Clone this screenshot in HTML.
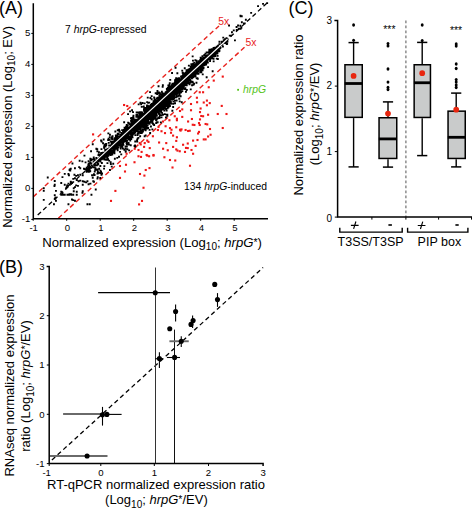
<!DOCTYPE html>
<html><head><meta charset="utf-8"><title>Figure</title>
<style>html,body{margin:0;padding:0;background:#fff;} svg{display:block;} text{font-family:"Liberation Sans",sans-serif;}</style>
</head><body>
<svg width="472" height="509" viewBox="0 0 472 509" font-family="Liberation Sans, sans-serif"><line x1="37.7" y1="215.0" x2="267.7" y2="2.4000000000000057" stroke="#000" stroke-width="1.3" stroke-dasharray="4.5 3"/>
<polyline points="33.2,196.9 118.75,117.5 219.0,25.9" fill="none" stroke="#e8231e" stroke-width="1.4" stroke-dasharray="4.8 3.2"/>
<line x1="58.3" y1="218.2" x2="245.6" y2="46.2" stroke="#e8231e" stroke-width="1.4" stroke-dasharray="4.8 3.2"/>
<path d="M96.9 173.2h1.9M85.7 167.7h1.9M95.2 162.5h1.9M91.6 175.3h1.9M94.8 165.4h1.9M87.8 163.7h1.9M85.9 170.5h1.9M83.5 155.6h1.9M85.7 170.8h1.9M96.2 169.5h1.9M87.9 171.9h1.9M88.0 171.5h1.9M93.6 167.3h1.9M99.5 161.6h1.9M86.1 168.8h1.9M86.8 166.6h1.9M93.3 161.4h1.9M100.7 159.3h1.9M92.7 162.3h1.9M92.6 167.2h1.9M100.2 158.1h1.9M86.6 171.4h1.9M97.5 158.8h1.9M90.1 167.9h1.9M89.3 171.2h1.9M96.5 178.6h1.9M90.3 167.5h1.9M97.3 159.8h1.9M88.7 169.7h1.9M89.4 159.1h1.9M96.9 164.5h1.9M97.8 172.7h1.9M92.7 163.1h1.9M86.3 170.7h1.9M85.4 170.0h1.9M87.9 168.2h1.9M96.6 162.9h1.9M96.5 170.0h1.9M87.4 164.7h1.9M93.5 162.8h1.9M101.1 173.5h1.9M89.0 166.6h1.9M103.4 166.1h1.9M93.2 159.3h1.9M88.7 167.8h1.9M90.5 160.3h1.9M94.2 165.1h1.9M98.6 159.4h1.9M95.2 160.3h1.9M87.4 165.4h1.9M99.8 157.6h1.9M86.3 169.1h1.9M94.5 168.3h1.9M92.8 157.4h1.9M87.6 169.4h1.9M93.2 165.1h1.9M84.1 169.3h1.9M97.3 164.0h1.9M96.8 160.8h1.9M95.9 165.4h1.9M97.8 158.7h1.9M88.4 165.6h1.9M103.1 168.6h1.9M89.4 158.7h1.9M93.9 163.3h1.9M90.6 163.7h1.9M109.0 170.0h1.9M99.3 158.1h1.9M91.4 163.9h1.9M99.4 166.0h1.9M84.7 169.2h1.9M93.1 159.2h1.9M91.7 159.4h1.9M97.5 155.1h1.9M100.9 163.0h1.9M89.5 167.4h1.9M96.9 171.5h1.9M94.0 160.9h1.9M85.3 170.9h1.9M89.3 162.4h1.9M78.7 160.7h1.9M88.6 171.3h1.9M91.1 175.2h1.9M97.5 161.3h1.9M87.6 170.0h1.9M88.5 167.6h1.9M100.5 174.7h1.9M98.1 159.0h1.9M87.6 171.4h1.9M89.8 163.1h1.9M89.8 160.4h1.9M90.1 151.3h1.9M95.4 158.0h1.9M98.7 159.8h1.9M93.8 171.6h1.9M90.9 165.1h1.9M94.3 169.8h1.9M99.4 159.9h1.9M98.7 157.2h1.9M93.6 175.0h1.9M96.8 177.3h1.9M81.4 161.4h1.9M99.3 178.0h1.9M100.1 171.7h1.9M89.8 159.3h1.9M88.9 167.5h1.9M85.7 171.8h1.9M99.6 173.0h1.9M91.4 166.8h1.9M95.4 165.1h1.9M118.7 145.0h1.9M111.9 146.8h1.9M103.6 144.6h1.9M111.1 148.3h1.9M109.9 145.5h1.9M100.2 155.7h1.9M116.0 144.1h1.9M113.8 145.8h1.9M116.6 145.5h1.9M113.9 145.4h1.9M107.8 152.3h1.9M109.7 153.8h1.9M101.2 155.1h1.9M111.2 147.9h1.9M99.9 155.2h1.9M100.5 155.6h1.9M102.6 153.2h1.9M100.7 152.9h1.9M105.9 152.1h1.9M103.5 158.9h1.9M100.2 157.4h1.9M96.3 149.1h1.9M106.2 159.8h1.9M107.3 152.7h1.9M100.8 157.2h1.9M112.2 141.4h1.9M110.7 148.1h1.9M102.0 154.4h1.9M106.4 155.3h1.9M105.6 151.6h1.9M113.9 158.8h1.9M102.6 155.9h1.9M112.3 142.3h1.9M109.0 134.8h1.9M116.3 157.9h1.9M104.6 146.5h1.9M103.7 158.0h1.9M103.0 156.9h1.9M105.2 151.4h1.9M105.4 154.0h1.9M115.1 145.5h1.9M106.3 158.0h1.9M100.4 156.8h1.9M119.2 145.5h1.9M109.1 149.2h1.9M101.3 153.9h1.9M100.1 140.5h1.9M99.4 155.8h1.9M100.7 141.5h1.9M117.9 143.4h1.9M116.8 146.0h1.9M107.8 142.9h1.9M105.0 153.7h1.9M104.2 149.7h1.9M102.3 154.2h1.9M110.7 143.2h1.9M113.5 153.2h1.9M115.8 147.7h1.9M108.2 154.5h1.9M106.4 156.3h1.9M108.3 139.7h1.9M116.8 142.2h1.9M112.1 141.9h1.9M114.8 145.9h1.9M116.2 146.8h1.9M119.1 151.9h1.9M104.6 154.4h1.9M110.9 151.3h1.9M109.7 155.1h1.9M103.5 159.6h1.9M101.1 157.3h1.9M105.1 153.2h1.9M105.8 154.5h1.9M111.1 146.0h1.9M117.2 143.5h1.9M109.0 151.7h1.9M120.1 146.8h1.9M107.4 133.4h1.9M118.5 144.7h1.9M108.4 153.7h1.9M104.6 154.6h1.9M105.1 154.9h1.9M102.9 153.8h1.9M102.1 152.8h1.9M108.2 145.5h1.9M114.9 143.1h1.9M117.6 147.4h1.9M107.2 149.0h1.9M102.7 139.5h1.9M112.5 144.0h1.9M100.0 154.6h1.9M111.3 147.2h1.9M108.8 137.1h1.9M114.7 146.6h1.9M113.8 146.7h1.9M108.3 150.1h1.9M105.1 156.4h1.9M116.7 148.2h1.9M106.6 153.1h1.9M109.8 141.4h1.9M113.6 139.7h1.9M109.4 153.6h1.9M105.3 149.7h1.9M117.4 144.0h1.9M114.0 147.7h1.9M104.5 156.1h1.9M109.7 162.3h1.9M106.5 158.5h1.9M110.4 138.8h1.9M113.6 144.8h1.9M100.3 152.9h1.9M107.6 138.6h1.9M117.8 143.3h1.9M111.7 147.7h1.9M108.6 154.4h1.9M105.3 145.1h1.9M102.3 155.2h1.9M97.7 154.6h1.9M121.0 146.5h1.9M113.8 149.8h1.9M109.5 149.7h1.9M124.7 151.1h1.9M109.9 153.0h1.9M119.8 148.5h1.9M113.1 143.8h1.9M103.9 154.3h1.9M103.4 152.6h1.9M105.4 153.1h1.9M106.6 155.8h1.9M105.3 144.0h1.9M106.1 154.8h1.9M110.7 154.2h1.9M104.1 156.9h1.9M115.1 142.9h1.9M107.1 152.8h1.9M108.5 150.9h1.9M109.8 148.2h1.9M116.4 144.4h1.9M107.5 151.1h1.9M115.1 142.7h1.9M109.2 150.1h1.9M108.6 148.7h1.9M108.3 148.7h1.9M110.8 166.6h1.9M110.3 153.1h1.9M103.8 155.0h1.9M106.5 163.1h1.9M113.9 145.3h1.9M91.8 144.3h1.9M108.8 150.7h1.9M116.7 150.2h1.9M104.7 144.3h1.9M106.8 153.4h1.9M111.5 151.8h1.9M118.1 156.8h1.9M112.9 144.9h1.9M103.6 157.2h1.9M110.0 149.1h1.9M103.5 152.8h1.9M100.5 149.1h1.9M107.2 140.0h1.9M109.8 150.5h1.9M111.8 150.7h1.9M111.9 144.6h1.9M124.8 151.9h1.9M107.9 150.7h1.9M113.5 150.7h1.9M110.8 151.6h1.9M102.1 143.3h1.9M113.4 148.2h1.9M107.0 149.7h1.9M108.6 148.7h1.9M107.9 149.7h1.9M118.9 145.5h1.9M120.3 154.4h1.9M112.6 141.7h1.9M117.9 144.6h1.9M105.3 154.0h1.9M113.5 152.4h1.9M123.4 149.7h1.9M112.4 142.7h1.9M108.2 160.6h1.9M100.1 153.5h1.9M103.2 146.5h1.9M105.3 159.8h1.9M104.8 154.2h1.9M109.9 164.1h1.9M110.4 146.0h1.9M115.4 147.2h1.9M115.0 143.3h1.9M112.3 163.8h1.9M115.0 148.9h1.9M109.4 145.4h1.9M95.4 148.6h1.9M114.6 143.4h1.9M111.0 137.4h1.9M103.2 153.4h1.9M119.2 145.5h1.9M103.1 147.8h1.9M111.5 152.8h1.9M120.0 145.0h1.9M114.7 145.0h1.9M105.1 156.9h1.9M106.1 149.5h1.9M107.9 148.5h1.9M108.3 154.4h1.9M103.8 154.6h1.9M105.4 152.3h1.9M111.1 145.1h1.9M101.4 157.9h1.9M112.7 151.8h1.9M109.7 152.6h1.9M102.2 158.7h1.9M104.5 151.1h1.9M109.9 147.1h1.9M110.0 150.6h1.9M100.8 156.0h1.9M116.4 141.8h1.9M110.4 142.4h1.9M118.9 144.6h1.9M98.0 152.1h1.9M105.7 154.2h1.9M97.9 154.1h1.9M115.7 147.6h1.9M107.4 155.7h1.9M95.6 149.1h1.9M110.1 153.4h1.9M114.3 142.2h1.9M110.9 141.9h1.9M103.9 152.8h1.9M107.1 159.2h1.9M114.0 141.7h1.9M109.9 148.7h1.9M110.4 145.1h1.9M102.9 157.1h1.9M100.2 155.6h1.9M110.3 145.4h1.9M111.3 154.5h1.9M102.8 157.6h1.9M122.0 148.5h1.9M112.2 148.8h1.9M115.6 146.8h1.9M96.4 151.3h1.9M115.6 145.1h1.9M99.8 155.0h1.9M114.1 143.5h1.9M109.0 151.4h1.9M106.3 152.6h1.9M118.0 156.7h1.9M111.5 139.1h1.9M125.5 141.5h1.9M121.9 142.4h1.9M125.9 133.8h1.9M121.7 138.9h1.9M120.1 141.4h1.9M118.5 138.3h1.9M118.7 142.0h1.9M120.4 138.8h1.9M121.6 136.5h1.9M123.9 138.8h1.9M128.0 128.6h1.9M121.6 137.2h1.9M122.6 131.6h1.9M122.3 141.3h1.9M122.9 136.6h1.9M113.6 138.3h1.9M122.2 139.0h1.9M116.5 141.0h1.9M128.8 130.1h1.9M124.8 132.1h1.9M120.9 139.6h1.9M127.1 136.5h1.9M127.9 123.1h1.9M115.9 137.7h1.9M133.1 131.4h1.9M124.8 135.7h1.9M127.4 136.3h1.9M133.1 131.0h1.9M122.8 135.2h1.9M127.5 135.9h1.9M136.6 138.8h1.9M136.6 129.6h1.9M120.6 134.6h1.9M132.1 130.1h1.9M130.8 132.8h1.9M131.2 135.3h1.9M123.5 135.4h1.9M123.0 136.7h1.9M118.6 141.7h1.9M121.3 141.9h1.9M118.4 141.1h1.9M134.4 135.1h1.9M122.5 139.1h1.9M121.0 140.5h1.9M117.3 139.6h1.9M131.5 129.3h1.9M130.3 127.2h1.9M126.7 130.2h1.9M123.3 139.0h1.9M120.9 138.1h1.9M125.3 140.6h1.9M124.8 134.9h1.9M119.0 138.9h1.9M125.0 135.6h1.9M121.1 137.6h1.9M134.3 128.1h1.9M138.3 131.5h1.9M125.8 133.1h1.9M121.8 138.8h1.9M132.5 126.3h1.9M119.9 135.0h1.9M120.4 134.1h1.9M115.4 140.5h1.9M123.0 135.7h1.9M125.9 135.5h1.9M123.1 132.0h1.9M120.2 138.7h1.9M125.2 133.9h1.9M116.5 141.3h1.9M120.2 136.7h1.9M119.1 141.1h1.9M127.5 139.2h1.9M117.2 140.8h1.9M111.6 136.3h1.9M123.1 138.2h1.9M120.3 137.8h1.9M124.3 130.5h1.9M134.3 141.5h1.9M130.5 131.1h1.9M127.7 131.5h1.9M131.9 133.6h1.9M133.6 130.0h1.9M124.9 137.2h1.9M120.4 135.0h1.9M143.7 136.2h1.9M119.0 139.2h1.9M126.0 127.9h1.9M127.1 131.4h1.9M126.4 149.3h1.9M130.8 128.8h1.9M134.3 130.3h1.9M128.1 132.8h1.9M131.7 132.8h1.9M128.8 127.7h1.9M120.7 141.1h1.9M126.6 134.6h1.9M122.1 131.1h1.9M129.1 127.2h1.9M136.6 135.1h1.9M131.1 129.3h1.9M131.6 137.4h1.9M131.0 127.2h1.9M130.6 133.4h1.9M125.5 128.4h1.9M116.7 134.6h1.9M117.7 141.6h1.9M122.0 142.4h1.9M134.3 146.7h1.9M117.3 139.0h1.9M128.9 127.1h1.9M125.8 132.8h1.9M136.1 140.2h1.9M126.8 131.6h1.9M129.2 132.2h1.9M126.2 135.3h1.9M116.5 141.4h1.9M128.3 127.6h1.9M126.3 127.4h1.9M128.0 136.6h1.9M129.6 137.0h1.9M130.0 133.5h1.9M117.3 140.2h1.9M131.2 132.3h1.9M116.8 133.9h1.9M116.6 139.3h1.9M117.0 133.7h1.9M127.9 129.4h1.9M119.1 137.5h1.9M125.5 126.9h1.9M133.5 126.9h1.9M127.3 136.1h1.9M118.8 131.7h1.9M128.7 137.9h1.9M132.0 134.6h1.9M129.6 129.8h1.9M125.6 130.7h1.9M128.6 132.7h1.9M117.8 140.3h1.9M119.0 139.2h1.9M119.5 136.4h1.9M126.4 127.6h1.9M122.9 138.0h1.9M123.1 130.0h1.9M121.2 145.5h1.9M121.5 144.3h1.9M125.5 141.5h1.9M131.2 134.2h1.9M126.3 129.1h1.9M130.5 133.5h1.9M121.9 137.5h1.9M124.1 132.5h1.9M124.2 134.2h1.9M125.6 135.5h1.9M122.2 143.1h1.9M131.7 127.8h1.9M122.1 140.5h1.9M133.6 127.0h1.9M133.0 127.7h1.9M120.0 144.2h1.9M128.4 138.3h1.9M123.2 122.2h1.9M138.4 131.8h1.9M127.4 137.6h1.9M122.8 138.9h1.9M120.4 138.5h1.9M133.8 128.2h1.9M118.5 136.8h1.9M127.8 133.9h1.9M121.3 141.5h1.9M129.9 137.7h1.9M134.4 128.5h1.9M120.8 141.3h1.9M134.3 132.5h1.9M124.7 133.3h1.9M132.3 128.6h1.9M128.1 130.4h1.9M119.2 136.8h1.9M133.9 129.8h1.9M128.1 137.1h1.9M121.4 145.3h1.9M124.5 148.8h1.9M130.3 139.0h1.9M122.9 133.4h1.9M120.6 135.9h1.9M119.5 139.9h1.9M123.2 137.1h1.9M123.8 138.4h1.9M131.0 128.8h1.9M119.7 144.4h1.9M128.4 129.2h1.9M133.1 130.8h1.9M125.9 146.5h1.9M131.3 126.5h1.9M128.4 130.4h1.9M132.5 128.3h1.9M121.2 136.8h1.9M122.2 135.3h1.9M118.5 131.2h1.9M134.3 127.0h1.9M125.7 131.8h1.9M121.0 134.5h1.9M122.3 133.6h1.9M124.6 140.5h1.9M116.8 140.2h1.9M115.0 136.9h1.9M134.0 131.8h1.9M122.1 137.8h1.9M134.4 129.0h1.9M121.6 138.4h1.9M121.6 138.0h1.9M123.0 131.7h1.9M120.4 139.2h1.9M122.8 135.7h1.9M138.6 132.3h1.9M129.6 126.2h1.9M130.0 128.8h1.9M129.8 134.2h1.9M135.8 131.0h1.9M135.6 130.0h1.9M126.9 134.1h1.9M128.7 130.5h1.9M118.9 142.2h1.9M125.1 126.7h1.9M124.0 134.5h1.9M128.7 129.5h1.9M130.1 134.1h1.9M127.6 142.9h1.9M115.8 139.3h1.9M127.2 122.7h1.9M119.9 140.7h1.9M125.7 135.3h1.9M120.8 134.8h1.9M120.6 136.1h1.9M128.4 129.6h1.9M131.5 125.1h1.9M114.4 131.5h1.9M123.6 127.7h1.9M125.5 140.5h1.9M126.0 133.0h1.9M120.5 133.0h1.9M120.2 139.7h1.9M119.7 139.4h1.9M119.1 137.4h1.9M132.1 127.8h1.9M125.1 134.0h1.9M120.3 138.2h1.9M132.9 128.6h1.9M133.1 126.0h1.9M122.5 133.1h1.9M120.8 141.1h1.9M116.7 135.7h1.9M116.2 138.4h1.9M121.5 135.5h1.9M119.6 141.5h1.9M127.9 144.6h1.9M124.0 140.4h1.9M130.4 136.7h1.9M130.1 126.5h1.9M129.1 129.9h1.9M124.8 136.4h1.9M129.3 140.5h1.9M121.9 130.3h1.9M124.8 137.5h1.9M123.5 137.5h1.9M128.2 150.4h1.9M117.7 134.0h1.9M136.0 129.5h1.9M120.1 140.9h1.9M125.9 134.5h1.9M123.9 128.8h1.9M136.8 133.5h1.9M120.1 138.2h1.9M125.6 141.5h1.9M124.3 141.0h1.9M134.1 145.4h1.9M127.0 137.4h1.9M133.6 127.7h1.9M139.2 136.2h1.9M132.1 128.9h1.9M119.8 143.9h1.9M117.9 141.7h1.9M128.4 130.5h1.9M130.4 126.6h1.9M126.2 135.8h1.9M136.3 141.6h1.9M115.5 140.6h1.9M124.9 137.1h1.9M135.6 130.4h1.9M129.6 128.0h1.9M131.8 129.1h1.9M135.1 128.5h1.9M122.1 138.9h1.9M117.6 139.1h1.9M119.5 139.5h1.9M124.9 133.0h1.9M130.0 132.9h1.9M135.8 130.2h1.9M126.0 127.9h1.9M127.5 131.6h1.9M133.2 133.2h1.9M125.4 135.5h1.9M126.5 133.7h1.9M116.4 140.2h1.9M130.6 130.3h1.9M127.3 144.3h1.9M136.1 131.1h1.9M127.9 132.0h1.9M121.2 136.4h1.9M120.9 141.6h1.9M119.3 136.3h1.9M128.2 132.5h1.9M126.1 128.7h1.9M120.9 142.1h1.9M115.5 138.4h1.9M127.4 135.3h1.9M127.8 133.8h1.9M123.2 135.6h1.9M126.8 144.1h1.9M124.3 130.1h1.9M121.5 145.8h1.9M121.3 136.6h1.9M124.9 135.0h1.9M135.3 129.1h1.9M128.0 132.1h1.9M131.8 128.2h1.9M125.6 135.2h1.9M120.1 137.6h1.9M121.2 138.2h1.9M131.2 125.3h1.9M127.6 129.9h1.9M122.1 137.1h1.9M120.6 144.6h1.9M125.7 134.5h1.9M130.3 133.3h1.9M122.8 134.3h1.9M120.4 137.1h1.9M129.3 132.6h1.9M137.8 132.5h1.9M122.1 139.6h1.9M117.4 141.2h1.9M124.4 138.3h1.9M123.8 135.2h1.9M129.4 132.2h1.9M122.9 141.3h1.9M133.2 132.2h1.9M137.4 137.9h1.9M121.2 130.1h1.9M120.7 139.0h1.9M140.0 133.1h1.9M126.3 140.9h1.9M130.8 129.3h1.9M119.8 137.4h1.9M120.1 138.0h1.9M130.8 131.2h1.9M119.7 135.3h1.9M132.3 126.6h1.9M123.8 132.9h1.9M119.7 138.6h1.9M122.0 139.7h1.9M125.7 137.0h1.9M126.4 130.1h1.9M129.6 124.2h1.9M114.9 135.5h1.9M125.2 137.4h1.9M122.8 140.7h1.9M132.7 126.3h1.9M121.1 141.3h1.9M121.7 144.7h1.9M117.0 140.1h1.9M125.0 137.1h1.9M137.9 133.5h1.9M131.6 128.1h1.9M131.8 132.9h1.9M134.6 127.3h1.9M133.4 128.2h1.9M124.0 138.2h1.9M123.0 141.7h1.9M132.6 127.4h1.9M128.8 129.7h1.9M118.7 142.5h1.9M126.0 129.7h1.9M122.7 135.5h1.9M121.8 134.8h1.9M121.6 135.9h1.9M117.0 136.7h1.9M118.3 143.1h1.9M119.6 135.7h1.9M122.6 136.3h1.9M136.1 130.0h1.9M118.3 139.3h1.9M135.9 129.5h1.9M125.6 143.4h1.9M121.8 135.4h1.9M126.7 125.5h1.9M129.6 128.1h1.9M118.1 129.6h1.9M118.6 141.9h1.9M123.8 133.6h1.9M116.8 130.2h1.9M131.3 126.7h1.9M121.8 140.4h1.9M133.6 146.0h1.9M133.2 129.1h1.9M118.0 141.9h1.9M123.8 135.5h1.9M125.8 124.9h1.9M127.9 128.3h1.9M118.4 141.9h1.9M116.6 140.5h1.9M114.9 138.0h1.9M137.4 132.3h1.9M122.4 139.0h1.9M126.0 127.2h1.9M132.2 128.2h1.9M122.2 136.3h1.9M129.8 145.3h1.9M136.1 130.0h1.9M131.1 135.9h1.9M120.5 137.1h1.9M128.0 129.9h1.9M123.0 137.7h1.9M121.9 137.9h1.9M111.4 136.6h1.9M129.1 129.7h1.9M128.6 124.2h1.9M128.4 132.8h1.9M133.1 127.6h1.9M115.4 139.7h1.9M122.5 139.8h1.9M125.6 135.1h1.9M136.5 130.3h1.9M131.1 125.5h1.9M120.7 133.4h1.9M121.2 138.1h1.9M125.8 136.7h1.9M125.3 134.3h1.9M133.7 128.6h1.9M122.2 141.1h1.9M130.8 129.8h1.9M129.8 130.9h1.9M131.5 129.8h1.9M129.2 129.3h1.9M129.7 134.9h1.9M120.7 135.2h1.9M120.6 135.4h1.9M122.8 136.1h1.9M133.5 132.9h1.9M124.6 146.5h1.9M126.0 144.2h1.9M127.6 128.4h1.9M119.1 136.2h1.9M122.4 144.9h1.9M118.9 142.7h1.9M127.2 134.2h1.9M124.9 139.1h1.9M132.2 125.7h1.9M129.9 126.5h1.9M134.4 127.5h1.9M127.7 143.7h1.9M119.7 141.8h1.9M122.1 143.6h1.9M123.1 132.1h1.9M130.4 132.3h1.9M129.2 139.4h1.9M126.4 143.4h1.9M126.6 138.0h1.9M127.8 132.7h1.9M129.5 132.6h1.9M127.1 128.1h1.9M130.9 128.6h1.9M143.3 114.7h1.9M135.0 123.9h1.9M150.4 115.8h1.9M138.5 121.8h1.9M141.6 116.1h1.9M139.4 120.2h1.9M144.1 113.1h1.9M135.7 122.1h1.9M138.1 122.8h1.9M137.7 122.5h1.9M135.0 122.9h1.9M151.8 115.8h1.9M141.6 115.8h1.9M140.4 122.5h1.9M140.3 120.2h1.9M155.1 115.4h1.9M140.4 116.8h1.9M140.2 125.3h1.9M148.6 115.1h1.9M146.7 118.1h1.9M141.6 103.0h1.9M139.9 129.0h1.9M145.0 122.2h1.9M156.7 122.3h1.9M149.3 114.8h1.9M142.8 106.5h1.9M136.7 127.9h1.9M145.9 128.6h1.9M137.9 126.6h1.9M136.7 123.3h1.9M148.3 109.7h1.9M141.8 115.8h1.9M150.7 113.3h1.9M135.4 116.4h1.9M148.7 113.4h1.9M144.2 122.2h1.9M139.8 124.0h1.9M149.4 116.8h1.9M156.6 118.3h1.9M135.8 125.1h1.9M145.9 119.3h1.9M139.7 112.8h1.9M137.0 122.8h1.9M135.5 116.7h1.9M135.5 123.7h1.9M139.4 125.4h1.9M137.9 122.4h1.9M143.7 117.1h1.9M144.4 116.1h1.9M135.6 121.9h1.9M133.1 125.5h1.9M137.7 120.0h1.9M144.3 115.2h1.9M138.1 124.8h1.9M137.4 120.1h1.9M137.0 123.2h1.9M155.9 122.2h1.9M145.1 120.0h1.9M134.0 124.7h1.9M133.8 123.3h1.9M141.5 121.4h1.9M142.1 117.1h1.9M143.3 115.5h1.9M133.4 123.3h1.9M135.4 122.9h1.9M143.5 113.9h1.9M145.2 124.3h1.9M138.1 121.7h1.9M132.5 115.7h1.9M149.0 111.1h1.9M141.8 124.3h1.9M140.6 115.3h1.9M137.5 118.8h1.9M139.9 119.2h1.9M150.2 114.9h1.9M148.4 109.1h1.9M140.7 121.6h1.9M135.1 121.6h1.9M146.9 116.0h1.9M138.2 124.2h1.9M134.0 126.5h1.9M148.2 111.8h1.9M141.6 120.5h1.9M150.1 116.2h1.9M141.8 121.3h1.9M143.3 107.9h1.9M140.4 118.3h1.9M137.4 124.7h1.9M132.6 124.9h1.9M137.1 112.4h1.9M145.7 117.6h1.9M150.6 113.9h1.9M136.5 126.2h1.9M141.9 114.7h1.9M140.5 121.2h1.9M145.5 121.7h1.9M139.7 127.4h1.9M138.3 121.9h1.9M141.1 117.1h1.9M144.8 108.0h1.9M138.3 127.3h1.9M140.2 117.2h1.9M150.1 116.6h1.9M147.2 108.9h1.9M133.1 119.7h1.9M138.0 126.4h1.9M154.5 116.4h1.9M149.6 110.8h1.9M143.3 120.3h1.9M140.0 130.6h1.9M150.0 112.8h1.9M137.4 117.8h1.9M152.2 115.5h1.9M141.9 114.8h1.9M150.1 116.0h1.9M137.9 125.3h1.9M146.7 114.1h1.9M134.2 120.0h1.9M141.1 120.8h1.9M149.9 115.2h1.9M147.0 113.0h1.9M138.6 125.3h1.9M135.8 121.6h1.9M140.9 120.6h1.9M140.3 116.5h1.9M142.2 122.3h1.9M136.1 124.8h1.9M135.2 120.1h1.9M147.0 116.2h1.9M152.2 115.7h1.9M136.1 127.3h1.9M138.6 113.5h1.9M146.0 114.3h1.9M137.0 128.3h1.9M149.2 114.7h1.9M139.9 128.5h1.9M143.7 117.0h1.9M144.5 119.4h1.9M145.8 118.2h1.9M138.5 121.3h1.9M140.6 119.8h1.9M147.1 120.7h1.9M140.3 119.3h1.9M147.9 119.2h1.9M142.3 120.5h1.9M140.8 119.3h1.9M132.2 124.3h1.9M145.8 118.4h1.9M141.9 118.8h1.9M140.4 125.3h1.9M147.3 115.3h1.9M146.2 113.8h1.9M141.7 119.6h1.9M130.6 118.0h1.9M140.6 118.1h1.9M134.3 123.7h1.9M134.3 123.0h1.9M141.3 120.1h1.9M130.5 120.6h1.9M131.1 110.3h1.9M143.0 119.2h1.9M134.6 126.0h1.9M142.8 115.1h1.9M136.1 126.0h1.9M147.9 116.8h1.9M148.0 115.5h1.9M145.3 121.3h1.9M133.5 124.5h1.9M147.4 123.4h1.9M138.8 119.4h1.9M149.9 111.9h1.9M134.9 123.3h1.9M151.7 116.4h1.9M158.0 118.0h1.9M147.9 116.9h1.9M148.8 115.1h1.9M134.9 121.5h1.9M152.5 113.4h1.9M139.0 116.1h1.9M150.6 112.4h1.9M153.5 116.3h1.9M139.4 126.6h1.9M143.4 111.0h1.9M148.5 111.2h1.9M132.4 123.1h1.9M142.0 123.2h1.9M148.8 116.9h1.9M137.7 125.2h1.9M150.7 114.3h1.9M140.0 123.7h1.9M152.6 118.7h1.9M138.4 126.3h1.9M140.4 117.1h1.9M149.0 112.1h1.9M135.1 121.3h1.9M139.1 123.2h1.9M146.1 122.2h1.9M141.7 123.9h1.9M140.0 131.1h1.9M133.9 120.9h1.9M134.3 121.9h1.9M148.9 111.5h1.9M146.7 117.3h1.9M148.1 111.9h1.9M138.4 125.5h1.9M148.5 115.8h1.9M134.4 123.5h1.9M148.6 123.8h1.9M146.4 118.4h1.9M137.8 119.0h1.9M152.6 116.9h1.9M147.4 121.9h1.9M144.1 118.1h1.9M143.9 108.5h1.9M134.9 124.2h1.9M152.8 113.3h1.9M141.3 113.9h1.9M139.5 119.6h1.9M148.7 115.5h1.9M132.3 116.9h1.9M149.4 110.2h1.9M146.4 120.2h1.9M139.5 120.6h1.9M148.4 116.3h1.9M141.4 119.8h1.9M136.9 123.9h1.9M143.8 112.7h1.9M133.2 124.4h1.9M145.0 111.4h1.9M144.0 128.0h1.9M143.3 115.5h1.9M151.6 112.4h1.9M142.4 116.3h1.9M147.7 118.8h1.9M140.5 123.0h1.9M134.4 127.0h1.9M134.5 126.1h1.9M130.0 118.4h1.9M143.8 116.6h1.9M151.4 129.4h1.9M143.4 119.5h1.9M145.7 109.8h1.9M135.8 124.3h1.9M137.1 122.5h1.9M144.6 116.2h1.9M133.4 125.4h1.9M135.7 128.2h1.9M140.8 122.0h1.9M134.6 123.9h1.9M144.7 125.5h1.9M138.7 124.1h1.9M142.6 116.6h1.9M143.4 117.1h1.9M144.7 130.3h1.9M146.0 118.4h1.9M141.0 118.4h1.9M136.0 124.3h1.9M148.0 110.6h1.9M139.8 124.5h1.9M138.5 126.2h1.9M133.9 123.6h1.9M145.7 117.7h1.9M149.3 113.8h1.9M145.6 113.2h1.9M140.6 120.4h1.9M139.8 123.8h1.9M136.4 128.5h1.9M144.6 116.5h1.9M144.3 118.8h1.9M139.3 120.7h1.9M142.4 114.4h1.9M143.1 121.3h1.9M150.4 112.8h1.9M144.3 113.5h1.9M134.9 119.8h1.9M152.3 115.6h1.9M132.3 123.8h1.9M139.7 115.5h1.9M138.0 117.8h1.9M137.3 122.4h1.9M140.4 130.8h1.9M147.0 114.6h1.9M141.0 132.7h1.9M141.5 116.5h1.9M153.6 115.7h1.9M136.1 124.2h1.9M135.7 122.1h1.9M140.7 114.1h1.9M146.1 122.2h1.9M144.2 116.3h1.9M147.2 113.7h1.9M143.0 129.6h1.9M137.6 120.4h1.9M140.3 123.2h1.9M134.3 125.5h1.9M151.4 115.3h1.9M147.8 115.2h1.9M148.6 118.1h1.9M134.1 126.5h1.9M148.3 113.7h1.9M145.9 114.6h1.9M140.4 118.2h1.9M151.4 119.8h1.9M144.3 122.2h1.9M136.3 121.8h1.9M133.5 122.9h1.9M136.9 122.1h1.9M132.0 123.6h1.9M145.3 126.7h1.9M155.2 123.1h1.9M149.0 119.0h1.9M148.8 114.2h1.9M145.9 115.6h1.9M140.1 124.1h1.9M138.9 114.0h1.9M139.9 118.7h1.9M144.0 111.5h1.9M145.3 120.9h1.9M135.9 120.2h1.9M151.2 122.7h1.9M148.6 110.3h1.9M139.0 124.6h1.9M155.8 119.5h1.9M135.1 127.2h1.9M136.0 120.5h1.9M142.3 127.0h1.9M145.2 114.0h1.9M150.4 112.6h1.9M145.2 113.9h1.9M139.9 122.0h1.9M151.0 115.2h1.9M137.5 119.7h1.9M144.1 128.6h1.9M140.2 104.3h1.9M144.4 116.7h1.9M148.8 118.9h1.9M140.6 112.1h1.9M149.9 111.0h1.9M144.8 122.1h1.9M140.8 106.9h1.9M145.0 115.2h1.9M146.9 112.0h1.9M141.4 119.9h1.9M147.9 117.1h1.9M145.5 119.7h1.9M138.6 121.4h1.9M135.5 121.5h1.9M143.9 116.6h1.9M132.1 122.5h1.9M151.6 114.7h1.9M131.0 119.4h1.9M134.6 126.4h1.9M139.1 128.1h1.9M148.4 111.2h1.9M139.0 120.6h1.9M133.4 121.7h1.9M138.0 129.4h1.9M135.7 126.9h1.9M148.6 118.7h1.9M144.4 116.6h1.9M145.8 116.0h1.9M145.7 114.7h1.9M131.1 121.9h1.9M142.4 116.1h1.9M141.8 122.6h1.9M148.8 115.0h1.9M146.4 112.8h1.9M148.1 112.1h1.9M134.4 125.0h1.9M150.6 115.1h1.9M148.8 112.0h1.9M150.2 112.4h1.9M137.8 126.9h1.9M139.8 125.7h1.9M138.8 127.7h1.9M130.4 122.3h1.9M150.5 115.6h1.9M147.3 113.8h1.9M146.2 118.3h1.9M152.4 118.1h1.9M145.6 117.9h1.9M139.6 123.0h1.9M137.0 126.3h1.9M134.6 124.2h1.9M147.6 115.8h1.9M138.4 124.4h1.9M138.5 120.9h1.9M137.9 117.1h1.9M131.7 123.9h1.9M137.3 121.8h1.9M139.7 123.2h1.9M151.5 120.7h1.9M139.4 120.3h1.9M137.8 120.3h1.9M150.8 112.3h1.9M141.8 118.2h1.9M143.2 108.8h1.9M142.5 115.4h1.9M137.6 129.1h1.9M132.1 112.1h1.9M138.6 117.4h1.9M147.3 115.1h1.9M141.8 123.2h1.9M145.8 115.8h1.9M143.7 119.0h1.9M137.0 122.8h1.9M151.1 115.8h1.9M136.0 125.7h1.9M148.6 114.8h1.9M135.2 122.5h1.9M136.6 129.0h1.9M127.1 114.1h1.9M148.8 116.7h1.9M152.1 113.1h1.9M137.1 129.4h1.9M145.2 121.8h1.9M141.3 118.2h1.9M143.1 110.4h1.9M135.7 122.6h1.9M138.4 115.4h1.9M129.1 111.4h1.9M145.4 111.5h1.9M135.4 119.9h1.9M148.4 110.8h1.9M135.8 119.6h1.9M138.3 124.0h1.9M145.5 115.6h1.9M139.0 115.9h1.9M139.4 128.3h1.9M145.6 117.7h1.9M142.0 131.6h1.9M147.6 114.8h1.9M150.3 120.1h1.9M146.5 113.8h1.9M146.4 118.7h1.9M142.4 123.4h1.9M142.6 122.2h1.9M143.5 123.2h1.9M147.4 111.5h1.9M131.7 121.9h1.9M148.0 112.1h1.9M135.6 127.4h1.9M140.9 126.7h1.9M138.6 122.8h1.9M150.8 114.3h1.9M142.3 118.8h1.9M141.8 122.1h1.9M145.0 109.5h1.9M135.7 121.0h1.9M139.9 117.9h1.9M142.5 118.1h1.9M149.5 117.7h1.9M148.8 117.0h1.9M147.7 119.3h1.9M140.1 121.5h1.9M142.5 124.4h1.9M138.7 126.2h1.9M147.2 112.7h1.9M147.1 118.3h1.9M145.2 114.0h1.9M136.6 123.8h1.9M141.2 119.7h1.9M150.1 117.6h1.9M142.3 116.4h1.9M132.7 121.5h1.9M141.4 119.2h1.9M154.5 118.2h1.9M137.7 122.7h1.9M136.6 123.1h1.9M140.5 123.4h1.9M145.2 115.2h1.9M155.1 120.0h1.9M135.6 123.4h1.9M142.0 129.3h1.9M141.8 126.2h1.9M139.1 121.3h1.9M142.0 117.9h1.9M135.8 123.4h1.9M142.7 124.5h1.9M132.0 118.9h1.9M151.8 112.9h1.9M147.9 116.9h1.9M135.1 124.6h1.9M149.1 110.8h1.9M134.9 124.3h1.9M141.6 121.8h1.9M146.5 107.8h1.9M147.8 114.8h1.9M148.5 117.3h1.9M145.5 123.8h1.9M135.2 121.7h1.9M147.2 119.1h1.9M141.9 130.7h1.9M133.8 120.1h1.9M138.9 119.2h1.9M138.1 129.4h1.9M144.1 123.6h1.9M149.0 116.0h1.9M148.6 118.7h1.9M142.6 119.1h1.9M140.2 112.8h1.9M141.4 119.2h1.9M135.6 123.7h1.9M147.3 120.3h1.9M138.9 118.7h1.9M149.8 118.3h1.9M147.2 110.7h1.9M140.0 118.9h1.9M144.5 118.6h1.9M147.6 116.0h1.9M146.7 125.4h1.9M136.6 122.0h1.9M147.6 116.9h1.9M153.3 117.2h1.9M147.3 115.0h1.9M149.3 119.2h1.9M151.1 116.1h1.9M146.2 116.9h1.9M144.6 116.6h1.9M140.6 118.7h1.9M141.9 124.3h1.9M145.1 117.4h1.9M134.3 124.0h1.9M140.4 119.6h1.9M150.8 118.0h1.9M145.4 115.1h1.9M144.2 116.6h1.9M142.4 126.7h1.9M141.9 120.9h1.9M141.4 119.4h1.9M139.1 112.2h1.9M136.0 115.8h1.9M143.8 114.8h1.9M147.5 110.3h1.9M135.4 122.3h1.9M146.3 117.8h1.9M146.2 113.9h1.9M138.0 118.3h1.9M142.7 119.5h1.9M150.5 111.7h1.9M133.3 124.8h1.9M147.7 122.5h1.9M138.1 125.5h1.9M144.4 112.1h1.9M150.6 112.9h1.9M147.1 122.7h1.9M137.9 127.2h1.9M142.0 116.2h1.9M142.4 117.6h1.9M149.1 118.4h1.9M142.3 118.4h1.9M145.4 117.4h1.9M148.2 114.1h1.9M143.3 119.1h1.9M140.0 119.5h1.9M148.8 111.0h1.9M136.5 122.5h1.9M143.2 114.0h1.9M138.9 119.0h1.9M145.2 113.4h1.9M131.1 120.2h1.9M148.6 109.7h1.9M138.4 119.8h1.9M137.6 128.3h1.9M139.5 123.3h1.9M139.4 119.2h1.9M133.5 125.8h1.9M138.3 117.7h1.9M143.0 121.9h1.9M146.8 116.9h1.9M141.7 122.9h1.9M137.4 121.6h1.9M139.2 124.5h1.9M144.0 113.0h1.9M147.9 110.4h1.9M140.4 116.3h1.9M139.0 124.6h1.9M148.3 115.0h1.9M146.3 125.9h1.9M136.6 122.5h1.9M138.3 126.7h1.9M148.3 115.8h1.9M145.5 112.2h1.9M146.9 118.9h1.9M139.6 117.4h1.9M143.3 117.9h1.9M140.7 125.9h1.9M147.5 109.3h1.9M147.2 128.0h1.9M141.2 113.5h1.9M143.0 109.6h1.9M150.8 116.9h1.9M142.4 120.0h1.9M139.9 123.0h1.9M144.6 119.5h1.9M134.5 123.2h1.9M145.8 111.7h1.9M145.1 126.0h1.9M148.1 113.4h1.9M135.5 119.7h1.9M140.2 120.8h1.9M139.6 124.0h1.9M141.2 120.1h1.9M139.4 125.9h1.9M131.2 124.0h1.9M147.2 116.5h1.9M139.0 122.6h1.9M140.7 125.3h1.9M137.1 120.2h1.9M144.5 121.5h1.9M140.5 119.4h1.9M152.0 123.5h1.9M142.7 114.3h1.9M142.3 123.1h1.9M148.5 111.3h1.9M146.9 112.1h1.9M139.9 130.4h1.9M137.7 104.4h1.9M148.6 112.1h1.9M146.6 114.1h1.9M137.3 125.4h1.9M145.8 111.9h1.9M143.4 115.7h1.9M136.7 128.7h1.9M135.8 128.0h1.9M151.4 113.2h1.9M147.1 118.5h1.9M149.2 133.0h1.9M136.4 125.7h1.9M135.7 123.8h1.9M132.6 118.2h1.9M143.9 111.7h1.9M139.6 121.1h1.9M137.6 125.3h1.9M146.4 110.1h1.9M148.5 115.6h1.9M134.2 121.6h1.9M151.7 115.4h1.9M143.8 116.9h1.9M155.6 122.5h1.9M144.7 115.8h1.9M146.2 110.3h1.9M150.5 117.5h1.9M147.4 113.1h1.9M136.1 122.5h1.9M145.5 115.8h1.9M142.8 118.4h1.9M147.4 116.1h1.9M142.0 120.5h1.9M147.3 111.7h1.9M146.7 121.2h1.9M136.2 120.5h1.9M140.1 125.0h1.9M139.9 127.8h1.9M143.3 120.0h1.9M133.7 124.6h1.9M140.8 118.5h1.9M133.6 121.8h1.9M142.7 119.5h1.9M142.6 119.2h1.9M140.7 116.2h1.9M144.1 109.3h1.9M136.3 128.6h1.9M148.0 113.5h1.9M142.3 119.8h1.9M143.5 118.1h1.9M141.2 112.8h1.9M150.9 116.2h1.9M143.6 123.9h1.9M138.5 117.9h1.9M147.5 109.4h1.9M130.1 120.7h1.9M141.6 114.0h1.9M143.3 115.6h1.9M140.1 131.4h1.9M144.7 117.7h1.9M143.2 114.0h1.9M152.0 114.4h1.9M143.4 125.2h1.9M149.7 110.8h1.9M146.2 122.2h1.9M150.0 126.5h1.9M149.8 113.5h1.9M135.9 127.4h1.9M145.6 115.2h1.9M145.4 117.9h1.9M139.6 121.4h1.9M147.4 112.4h1.9M139.2 120.1h1.9M140.4 117.9h1.9M143.8 119.5h1.9M152.0 119.5h1.9M138.8 124.6h1.9M141.1 119.8h1.9M135.5 115.0h1.9M137.5 112.7h1.9M145.1 111.3h1.9M145.1 127.9h1.9M145.8 111.9h1.9M142.2 121.7h1.9M142.3 118.7h1.9M143.6 127.2h1.9M135.7 112.5h1.9M152.3 113.4h1.9M150.1 121.3h1.9M147.4 114.5h1.9M148.6 129.9h1.9M142.3 124.5h1.9M141.5 124.4h1.9M145.1 118.8h1.9M152.5 124.2h1.9M150.2 117.3h1.9M134.2 125.6h1.9M151.6 120.5h1.9M149.6 113.7h1.9M143.3 118.4h1.9M136.5 127.5h1.9M143.2 125.9h1.9M131.6 124.3h1.9M136.4 123.0h1.9M150.7 113.6h1.9M142.8 115.9h1.9M144.4 115.9h1.9M151.1 118.0h1.9M159.9 122.4h1.9M143.8 116.8h1.9M144.3 117.1h1.9M153.2 125.0h1.9M146.3 116.4h1.9M149.2 122.2h1.9M142.9 113.8h1.9M139.3 125.0h1.9M146.9 117.9h1.9M141.7 119.6h1.9M145.1 113.3h1.9M134.3 123.8h1.9M136.7 123.6h1.9M132.4 124.0h1.9M144.9 112.7h1.9M151.7 114.7h1.9M144.1 115.7h1.9M137.7 118.6h1.9M153.1 118.8h1.9M143.6 111.2h1.9M142.7 117.3h1.9M139.0 123.3h1.9M137.8 120.8h1.9M139.5 118.7h1.9M139.4 121.8h1.9M137.4 116.4h1.9M147.0 118.8h1.9M150.7 113.2h1.9M134.5 125.5h1.9M142.0 116.5h1.9M144.7 135.4h1.9M133.3 122.3h1.9M145.5 112.2h1.9M143.3 117.4h1.9M145.5 108.9h1.9M136.3 115.0h1.9M134.2 126.4h1.9M139.8 120.0h1.9M146.9 120.3h1.9M139.5 102.7h1.9M153.3 114.1h1.9M141.8 119.1h1.9M139.4 118.8h1.9M131.7 121.4h1.9M144.1 116.0h1.9M141.1 126.7h1.9M136.5 124.3h1.9M135.5 127.5h1.9M132.6 125.3h1.9M144.2 115.0h1.9M137.3 126.0h1.9M152.5 113.9h1.9M138.5 128.2h1.9M145.8 110.6h1.9M134.4 123.1h1.9M135.1 127.1h1.9M166.4 103.3h1.9M155.6 108.1h1.9M167.2 103.7h1.9M156.1 110.4h1.9M154.5 113.1h1.9M161.7 97.3h1.9M169.0 106.0h1.9M165.9 98.7h1.9M160.5 97.6h1.9M154.9 112.4h1.9M161.8 101.9h1.9M164.5 101.9h1.9M160.8 106.2h1.9M160.9 91.7h1.9M155.4 107.6h1.9M165.6 95.0h1.9M161.0 98.4h1.9M146.0 106.5h1.9M150.7 110.7h1.9M164.8 104.0h1.9M163.3 97.5h1.9M152.0 109.9h1.9M154.2 104.7h1.9M163.0 99.9h1.9M153.2 108.3h1.9M165.1 97.8h1.9M158.8 103.5h1.9M153.4 111.8h1.9M156.5 105.1h1.9M158.6 100.6h1.9M154.8 101.3h1.9M163.3 101.8h1.9M150.7 106.6h1.9M168.4 102.8h1.9M161.2 109.5h1.9M159.4 99.2h1.9M171.4 110.7h1.9M157.5 104.5h1.9M161.2 108.9h1.9M161.5 96.7h1.9M169.7 99.4h1.9M162.3 97.6h1.9M160.8 102.9h1.9M155.6 106.6h1.9M149.8 108.4h1.9M166.4 95.4h1.9M161.4 99.2h1.9M166.3 99.9h1.9M158.5 108.1h1.9M159.8 100.8h1.9M164.6 93.7h1.9M164.0 97.6h1.9M160.0 101.1h1.9M157.8 108.1h1.9M158.7 105.2h1.9M167.1 98.8h1.9M157.1 105.4h1.9M162.8 101.1h1.9M161.2 102.2h1.9M168.0 99.3h1.9M165.6 99.9h1.9M157.5 108.6h1.9M149.5 110.0h1.9M151.7 103.9h1.9M158.0 104.8h1.9M164.4 105.6h1.9M168.8 102.6h1.9M164.8 96.7h1.9M146.1 105.5h1.9M164.2 97.8h1.9M165.8 99.9h1.9M168.3 100.6h1.9M158.8 100.9h1.9M151.8 103.6h1.9M164.8 97.8h1.9M169.7 103.7h1.9M161.9 100.3h1.9M163.7 94.9h1.9M156.1 105.4h1.9M148.5 106.4h1.9M157.2 100.0h1.9M165.9 100.5h1.9M153.4 107.5h1.9M165.9 102.0h1.9M165.4 95.9h1.9M153.1 106.1h1.9M161.1 102.0h1.9M162.0 100.6h1.9M165.7 110.6h1.9M153.3 107.1h1.9M154.0 106.3h1.9M167.8 103.6h1.9M160.6 95.7h1.9M155.6 101.4h1.9M153.0 110.6h1.9M164.4 98.8h1.9M163.0 98.6h1.9M155.4 108.3h1.9M160.7 102.5h1.9M166.7 98.1h1.9M166.8 98.6h1.9M160.2 103.7h1.9M154.6 99.9h1.9M160.0 101.5h1.9M153.7 108.0h1.9M154.9 109.0h1.9M156.7 111.1h1.9M166.4 104.0h1.9M159.5 108.1h1.9M157.3 99.7h1.9M162.4 109.4h1.9M159.1 102.8h1.9M152.1 107.8h1.9M151.1 110.2h1.9M166.5 94.8h1.9M158.0 106.3h1.9M151.3 108.4h1.9M160.2 100.3h1.9M167.0 101.8h1.9M153.5 108.9h1.9M161.2 102.4h1.9M158.0 107.2h1.9M159.2 102.9h1.9M150.0 109.9h1.9M158.4 117.2h1.9M166.5 95.1h1.9M167.0 99.3h1.9M159.3 104.0h1.9M149.1 92.1h1.9M158.4 110.2h1.9M165.3 100.5h1.9M157.3 104.0h1.9M164.9 94.9h1.9M161.7 97.5h1.9M165.3 99.2h1.9M166.3 95.7h1.9M154.7 106.9h1.9M153.0 112.1h1.9M148.3 102.6h1.9M153.6 108.2h1.9M150.1 107.9h1.9M151.9 110.7h1.9M159.0 101.6h1.9M169.9 101.9h1.9M155.0 100.9h1.9M164.2 94.2h1.9M165.1 96.2h1.9M154.2 112.4h1.9M161.9 102.9h1.9M158.9 106.4h1.9M156.1 112.4h1.9M166.8 96.3h1.9M152.2 104.6h1.9M159.4 101.7h1.9M162.2 101.9h1.9M174.1 103.2h1.9M159.8 98.8h1.9M157.0 104.8h1.9M157.1 103.2h1.9M153.5 108.8h1.9M166.9 96.2h1.9M167.2 95.7h1.9M151.3 104.8h1.9M150.3 109.5h1.9M160.1 111.9h1.9M153.9 103.2h1.9M165.5 96.9h1.9M166.8 98.0h1.9M164.7 98.1h1.9M150.7 109.7h1.9M163.3 98.4h1.9M164.6 102.0h1.9M162.1 101.6h1.9M166.8 95.5h1.9M149.1 107.9h1.9M156.2 111.7h1.9M162.2 98.4h1.9M165.2 95.4h1.9M159.6 98.4h1.9M155.8 106.6h1.9M161.0 102.3h1.9M166.8 102.6h1.9M155.2 112.0h1.9M156.6 106.5h1.9M153.5 105.8h1.9M152.3 108.7h1.9M155.4 100.6h1.9M153.7 108.6h1.9M150.9 104.0h1.9M153.1 108.9h1.9M160.7 99.4h1.9M149.1 109.3h1.9M165.4 102.5h1.9M154.6 108.7h1.9M152.7 111.9h1.9M169.6 99.9h1.9M162.0 114.8h1.9M166.1 96.5h1.9M164.5 97.1h1.9M163.3 95.2h1.9M154.5 110.3h1.9M160.1 106.0h1.9M152.6 109.9h1.9M166.2 96.7h1.9M164.6 97.9h1.9M163.1 103.2h1.9M160.2 105.9h1.9M156.7 106.2h1.9M165.3 99.1h1.9M161.5 106.3h1.9M166.3 106.1h1.9M157.6 113.1h1.9M152.3 105.7h1.9M148.6 107.5h1.9M156.2 94.1h1.9M161.3 103.8h1.9M158.6 114.0h1.9M164.8 97.2h1.9M156.1 107.9h1.9M158.3 105.4h1.9M152.4 107.9h1.9M154.5 106.3h1.9M164.5 97.9h1.9M165.6 114.6h1.9M157.0 111.7h1.9M157.7 102.3h1.9M154.4 104.7h1.9M163.0 94.5h1.9M151.8 108.6h1.9M166.8 95.7h1.9M152.7 111.2h1.9M161.3 93.2h1.9M162.8 101.7h1.9M151.6 105.4h1.9M153.7 99.1h1.9M157.7 108.7h1.9M154.9 107.1h1.9M156.0 109.8h1.9M156.4 105.1h1.9M166.9 95.4h1.9M166.1 94.4h1.9M164.6 95.3h1.9M151.7 109.1h1.9M155.5 106.6h1.9M167.5 98.9h1.9M146.7 105.7h1.9M165.7 102.5h1.9M157.7 108.5h1.9M168.7 97.5h1.9M148.6 108.7h1.9M161.4 96.0h1.9M154.9 104.4h1.9M155.7 111.4h1.9M153.3 113.5h1.9M164.7 98.3h1.9M159.8 103.3h1.9M153.4 107.9h1.9M158.7 105.1h1.9M166.9 97.8h1.9M153.4 106.9h1.9M163.5 105.2h1.9M153.6 109.5h1.9M150.0 104.9h1.9M162.7 98.3h1.9M164.0 101.4h1.9M150.4 104.8h1.9M150.2 108.2h1.9M153.7 111.2h1.9M161.9 102.7h1.9M161.7 105.9h1.9M154.8 106.4h1.9M151.3 105.3h1.9M156.7 97.7h1.9M166.1 103.4h1.9M161.3 95.8h1.9M159.3 101.0h1.9M150.9 105.0h1.9M153.0 111.2h1.9M162.2 99.1h1.9M157.8 105.1h1.9M158.4 95.9h1.9M149.6 108.4h1.9M167.0 101.1h1.9M155.1 104.8h1.9M162.0 95.5h1.9M166.3 98.7h1.9M164.4 108.6h1.9M158.6 117.9h1.9M164.3 95.5h1.9M160.0 104.9h1.9M163.5 95.9h1.9M152.5 104.6h1.9M153.9 108.4h1.9M165.8 99.3h1.9M155.2 103.9h1.9M157.4 112.2h1.9M161.2 109.4h1.9M161.9 103.0h1.9M151.6 111.8h1.9M160.6 104.2h1.9M156.0 102.2h1.9M162.5 106.1h1.9M152.1 108.7h1.9M162.4 99.8h1.9M162.5 96.7h1.9M165.7 98.2h1.9M159.4 109.3h1.9M163.2 100.6h1.9M155.5 103.8h1.9M163.6 99.8h1.9M151.1 109.6h1.9M164.3 96.7h1.9M167.2 96.8h1.9M158.8 103.2h1.9M158.8 102.7h1.9M161.2 104.4h1.9M159.8 102.9h1.9M149.0 108.9h1.9M168.7 97.8h1.9M153.5 106.8h1.9M151.4 106.1h1.9M152.9 110.0h1.9M161.0 112.9h1.9M161.8 96.1h1.9M155.1 114.2h1.9M148.9 106.5h1.9M163.5 101.3h1.9M151.8 106.1h1.9M154.4 114.0h1.9M159.0 100.3h1.9M163.9 105.4h1.9M160.7 104.2h1.9M161.0 98.8h1.9M151.8 109.0h1.9M163.9 96.4h1.9M160.0 97.5h1.9M151.7 110.6h1.9M149.8 106.5h1.9M160.2 104.6h1.9M161.9 106.0h1.9M156.6 107.9h1.9M155.1 111.5h1.9M158.4 105.7h1.9M152.7 108.8h1.9M166.7 107.6h1.9M163.0 95.8h1.9M151.9 107.7h1.9M161.9 103.8h1.9M163.6 99.9h1.9M152.1 107.4h1.9M170.3 103.6h1.9M166.5 96.7h1.9M149.5 98.0h1.9M162.0 108.5h1.9M160.8 94.5h1.9M160.2 103.6h1.9M163.4 110.6h1.9M165.5 95.6h1.9M163.7 99.1h1.9M155.4 104.9h1.9M153.6 106.3h1.9M157.7 107.2h1.9M157.3 103.7h1.9M168.3 97.0h1.9M164.4 98.9h1.9M165.1 96.2h1.9M163.4 97.6h1.9M166.2 99.2h1.9M151.2 109.9h1.9M163.7 107.2h1.9M164.0 93.7h1.9M163.2 93.8h1.9M160.7 112.6h1.9M156.9 103.8h1.9M167.6 107.2h1.9M155.7 104.4h1.9M161.5 104.6h1.9M155.1 113.0h1.9M154.5 101.2h1.9M161.0 105.0h1.9M155.4 114.9h1.9M153.6 109.5h1.9M164.3 93.6h1.9M159.2 94.9h1.9M164.8 95.1h1.9M158.8 99.0h1.9M168.2 102.3h1.9M167.7 99.5h1.9M165.0 97.0h1.9M153.1 112.3h1.9M161.3 101.1h1.9M156.7 108.4h1.9M164.4 102.8h1.9M156.5 108.1h1.9M162.8 105.5h1.9M167.0 97.5h1.9M158.2 98.8h1.9M153.4 105.8h1.9M163.0 106.4h1.9M153.6 100.4h1.9M169.8 99.3h1.9M154.2 105.5h1.9M159.1 109.5h1.9M163.7 103.1h1.9M152.2 108.8h1.9M163.9 104.9h1.9M167.5 97.1h1.9M159.3 103.1h1.9M153.3 105.2h1.9M159.6 104.9h1.9M160.6 103.8h1.9M155.5 111.0h1.9M150.6 107.2h1.9M153.9 110.0h1.9M163.8 114.1h1.9M155.9 103.3h1.9M152.5 103.9h1.9M156.6 109.0h1.9M151.5 109.2h1.9M159.3 102.1h1.9M163.8 97.2h1.9M161.9 102.6h1.9M159.7 101.8h1.9M165.3 104.5h1.9M154.4 108.4h1.9M161.2 98.8h1.9M160.2 105.6h1.9M163.5 106.0h1.9M160.5 101.2h1.9M158.9 104.1h1.9M155.9 106.3h1.9M159.5 111.8h1.9M154.1 107.4h1.9M158.1 102.1h1.9M155.6 103.8h1.9M160.0 101.6h1.9M152.9 112.8h1.9M152.6 102.0h1.9M165.9 98.5h1.9M155.4 108.1h1.9M157.9 100.5h1.9M157.6 102.3h1.9M159.5 110.4h1.9M170.4 98.8h1.9M154.4 105.4h1.9M157.6 93.6h1.9M155.1 110.3h1.9M151.1 109.4h1.9M168.7 100.8h1.9M159.5 105.6h1.9M153.6 111.9h1.9M158.8 106.6h1.9M158.7 104.9h1.9M166.3 102.8h1.9M154.5 111.2h1.9M150.9 104.4h1.9M166.0 95.6h1.9M163.1 99.7h1.9M146.2 102.1h1.9M155.6 105.2h1.9M155.6 104.7h1.9M162.3 100.9h1.9M163.1 103.5h1.9M164.4 97.5h1.9M156.5 91.0h1.9M160.3 104.0h1.9M161.0 97.8h1.9M168.0 104.1h1.9M164.0 99.9h1.9M157.4 102.6h1.9M165.5 100.5h1.9M159.5 97.3h1.9M162.7 93.9h1.9M150.9 107.3h1.9M164.9 97.2h1.9M147.8 108.3h1.9M164.5 100.2h1.9M161.1 102.6h1.9M156.2 100.8h1.9M166.3 95.7h1.9M161.5 103.4h1.9M155.7 102.8h1.9M161.6 97.0h1.9M164.1 96.5h1.9M160.9 101.7h1.9M155.7 104.0h1.9M161.5 107.1h1.9M155.3 101.2h1.9M163.0 100.1h1.9M155.7 106.7h1.9M155.4 103.4h1.9M158.4 101.0h1.9M158.4 106.3h1.9M146.8 97.6h1.9M162.1 97.3h1.9M169.2 101.9h1.9M153.5 98.3h1.9M162.0 107.8h1.9M153.8 108.3h1.9M152.3 103.1h1.9M150.2 106.2h1.9M162.7 104.4h1.9M163.9 105.3h1.9M154.0 111.5h1.9M168.7 99.3h1.9M156.1 106.1h1.9M162.6 96.0h1.9M168.3 101.5h1.9M169.6 98.9h1.9M155.1 108.9h1.9M156.0 102.8h1.9M164.5 95.6h1.9M149.8 109.9h1.9M150.5 109.5h1.9M164.2 106.1h1.9M157.3 101.8h1.9M166.8 97.5h1.9M172.2 107.0h1.9M162.5 105.4h1.9M167.3 95.5h1.9M158.4 102.2h1.9M153.2 97.4h1.9M163.0 101.3h1.9M160.6 108.3h1.9M154.5 103.5h1.9M160.0 101.3h1.9M159.7 108.6h1.9M165.2 95.2h1.9M160.7 99.4h1.9M158.5 102.0h1.9M150.3 107.7h1.9M152.6 101.3h1.9M156.8 104.3h1.9M157.8 100.3h1.9M157.9 100.0h1.9M172.3 103.9h1.9M168.5 97.7h1.9M157.3 102.1h1.9M158.3 104.5h1.9M162.9 103.0h1.9M166.4 94.8h1.9M157.0 106.3h1.9M160.9 104.1h1.9M164.4 98.5h1.9M152.8 107.8h1.9M166.4 115.8h1.9M168.7 97.4h1.9M164.1 98.0h1.9M162.1 105.8h1.9M151.9 108.8h1.9M166.9 98.4h1.9M159.1 97.5h1.9M159.0 93.3h1.9M171.3 99.5h1.9M162.3 94.3h1.9M160.5 107.1h1.9M153.7 109.0h1.9M154.9 106.0h1.9M157.7 101.8h1.9M158.9 103.1h1.9M153.3 107.7h1.9M152.3 107.0h1.9M160.5 100.7h1.9M160.1 101.1h1.9M153.2 102.5h1.9M166.2 94.7h1.9M165.0 104.6h1.9M143.7 103.4h1.9M156.2 103.5h1.9M164.2 99.2h1.9M155.0 105.6h1.9M162.0 100.2h1.9M155.9 115.8h1.9M159.0 109.3h1.9M163.7 97.1h1.9M156.6 98.5h1.9M162.4 101.2h1.9M154.6 108.7h1.9M162.2 106.3h1.9M160.2 102.7h1.9M157.1 108.8h1.9M161.8 101.4h1.9M157.2 100.7h1.9M167.1 95.4h1.9M159.6 101.6h1.9M155.3 102.6h1.9M155.7 112.0h1.9M152.8 108.2h1.9M167.4 103.0h1.9M154.1 110.9h1.9M152.6 109.7h1.9M151.9 106.9h1.9M161.7 105.1h1.9M158.0 92.4h1.9M165.4 105.7h1.9M169.2 103.2h1.9M149.9 108.5h1.9M151.6 111.6h1.9M164.0 99.6h1.9M155.1 105.2h1.9M164.1 101.4h1.9M154.8 104.0h1.9M147.2 102.7h1.9M157.3 108.9h1.9M151.1 108.4h1.9M166.0 97.3h1.9M161.6 103.2h1.9M156.4 105.6h1.9M158.1 104.0h1.9M150.7 99.2h1.9M149.9 108.7h1.9M168.8 100.2h1.9M161.6 103.2h1.9M163.7 93.4h1.9M162.7 108.6h1.9M163.5 103.7h1.9M152.3 104.9h1.9M146.8 106.2h1.9M163.7 94.3h1.9M164.8 97.7h1.9M160.2 110.1h1.9M166.5 97.9h1.9M165.4 99.5h1.9M152.7 103.6h1.9M162.7 103.6h1.9M166.0 95.5h1.9M158.0 102.5h1.9M163.7 93.7h1.9M152.8 105.5h1.9M158.6 106.3h1.9M162.1 99.4h1.9M165.0 117.5h1.9M156.0 106.5h1.9M164.3 96.6h1.9M150.7 96.1h1.9M163.9 98.8h1.9M155.5 108.0h1.9M153.3 108.2h1.9M166.4 114.6h1.9M151.1 105.7h1.9M165.6 94.8h1.9M153.3 104.6h1.9M164.4 106.4h1.9M156.0 112.5h1.9M164.0 106.9h1.9M157.0 105.0h1.9M160.2 107.4h1.9M153.8 112.0h1.9M151.1 107.7h1.9M165.8 99.5h1.9M153.6 102.9h1.9M154.2 106.8h1.9M155.0 109.2h1.9M155.1 106.4h1.9M157.1 109.7h1.9M154.2 113.3h1.9M167.4 106.0h1.9M158.6 107.9h1.9M154.4 109.7h1.9M162.3 100.0h1.9M160.6 117.4h1.9M152.6 104.5h1.9M165.2 98.6h1.9M150.3 106.8h1.9M156.4 102.7h1.9M164.6 98.1h1.9M161.8 96.5h1.9M152.7 108.0h1.9M158.4 107.4h1.9M168.1 104.8h1.9M159.1 107.2h1.9M172.5 101.6h1.9M158.5 111.9h1.9M166.1 95.9h1.9M160.2 104.3h1.9M157.2 110.1h1.9M157.1 103.0h1.9M156.3 112.3h1.9M160.9 98.7h1.9M153.1 105.3h1.9M167.8 99.0h1.9M162.0 103.4h1.9M156.6 105.2h1.9M153.6 106.2h1.9M159.7 100.6h1.9M153.3 107.0h1.9M164.9 97.3h1.9M150.9 107.5h1.9M158.0 102.0h1.9M157.5 100.6h1.9M154.9 106.6h1.9M156.5 92.6h1.9M158.1 106.1h1.9M165.7 104.7h1.9M156.0 98.4h1.9M156.0 106.4h1.9M155.1 103.1h1.9M153.2 110.8h1.9M154.1 108.8h1.9M167.0 99.9h1.9M154.7 104.9h1.9M161.9 100.9h1.9M158.9 115.4h1.9M161.3 103.5h1.9M157.9 106.6h1.9M165.2 109.0h1.9M153.1 104.1h1.9M147.8 106.4h1.9M153.3 103.9h1.9M152.0 105.3h1.9M157.8 113.8h1.9M159.3 96.9h1.9M154.7 106.1h1.9M156.9 104.4h1.9M165.1 96.3h1.9M164.1 99.5h1.9M166.6 98.5h1.9M165.0 97.7h1.9M149.3 105.7h1.9M157.7 109.0h1.9M150.0 109.6h1.9M159.2 97.9h1.9M161.0 100.1h1.9M159.8 108.7h1.9M154.5 101.9h1.9M159.2 98.6h1.9M164.5 102.3h1.9M156.8 109.1h1.9M167.1 100.0h1.9M158.0 107.0h1.9M162.8 102.8h1.9M147.5 102.6h1.9M153.6 110.2h1.9M163.6 94.8h1.9M163.6 100.3h1.9M162.0 99.5h1.9M154.3 113.2h1.9M154.2 113.1h1.9M160.4 115.1h1.9M156.6 110.4h1.9M155.6 106.3h1.9M158.0 106.1h1.9M150.2 109.5h1.9M159.7 109.8h1.9M162.3 102.1h1.9M153.4 108.1h1.9M164.7 98.1h1.9M166.6 108.2h1.9M162.4 99.7h1.9M157.2 109.2h1.9M158.2 104.6h1.9M160.1 98.6h1.9M160.2 109.1h1.9M151.3 111.6h1.9M162.3 96.0h1.9M163.4 98.8h1.9M153.7 105.0h1.9M154.6 113.4h1.9M165.2 98.1h1.9M163.7 104.3h1.9M150.3 109.3h1.9M154.5 107.0h1.9M151.6 108.5h1.9M162.6 97.7h1.9M153.9 107.6h1.9M166.0 96.9h1.9M162.6 98.9h1.9M153.1 110.7h1.9M154.7 93.3h1.9M158.0 105.6h1.9M162.9 99.2h1.9M163.5 97.2h1.9M156.6 107.8h1.9M154.2 111.6h1.9M163.5 93.7h1.9M159.6 106.2h1.9M164.8 95.3h1.9M163.2 101.2h1.9M165.1 101.6h1.9M166.7 100.2h1.9M163.2 103.2h1.9M158.6 104.4h1.9M147.1 106.1h1.9M161.6 99.5h1.9M162.1 108.4h1.9M157.7 101.7h1.9M168.8 99.1h1.9M154.5 110.7h1.9M163.9 99.7h1.9M150.1 109.3h1.9M158.4 96.5h1.9M166.6 100.8h1.9M158.3 110.0h1.9M162.3 104.9h1.9M164.0 93.4h1.9M158.2 98.4h1.9M161.5 104.2h1.9M155.6 107.9h1.9M154.8 113.1h1.9M159.4 108.1h1.9M176.1 90.8h1.9M169.9 91.6h1.9M171.1 89.4h1.9M170.7 94.4h1.9M176.1 81.7h1.9M178.0 84.6h1.9M168.2 88.9h1.9M171.2 91.6h1.9M175.0 86.7h1.9M175.4 89.2h1.9M182.7 80.7h1.9M171.2 88.2h1.9M172.3 90.8h1.9M181.0 80.7h1.9M170.3 93.8h1.9M181.4 91.1h1.9M172.4 89.9h1.9M180.2 82.2h1.9M175.9 86.5h1.9M175.4 79.4h1.9M161.9 85.2h1.9M179.0 85.7h1.9M179.5 88.2h1.9M174.8 88.2h1.9M177.2 80.9h1.9M183.6 84.8h1.9M168.4 92.9h1.9M173.6 92.4h1.9M170.1 86.9h1.9M171.3 92.8h1.9M168.1 94.3h1.9M172.5 91.6h1.9M170.8 92.6h1.9M180.4 85.9h1.9M176.8 90.4h1.9M167.2 91.9h1.9M174.9 92.5h1.9M175.2 88.3h1.9M173.6 90.1h1.9M166.3 89.4h1.9M166.2 92.3h1.9M167.7 95.6h1.9M181.7 78.1h1.9M179.2 83.3h1.9M166.2 91.8h1.9M180.1 85.1h1.9M183.1 79.7h1.9M174.8 84.9h1.9M170.8 95.3h1.9M175.0 87.5h1.9M177.8 91.7h1.9M171.8 93.7h1.9M177.3 88.0h1.9M169.6 97.3h1.9M184.3 82.7h1.9M175.0 82.6h1.9M174.2 82.4h1.9M182.3 80.4h1.9M179.7 86.8h1.9M171.3 91.4h1.9M171.7 92.0h1.9M170.0 93.7h1.9M168.0 95.3h1.9M178.4 81.7h1.9M171.1 73.0h1.9M174.0 92.5h1.9M169.3 91.6h1.9M175.9 83.7h1.9M180.3 81.3h1.9M183.8 82.1h1.9M170.4 93.1h1.9M179.1 82.1h1.9M181.4 82.8h1.9M184.4 88.3h1.9M173.2 90.9h1.9M171.1 93.3h1.9M179.9 81.6h1.9M173.2 91.0h1.9M176.5 92.5h1.9M179.5 89.7h1.9M170.3 86.8h1.9M180.3 81.8h1.9M168.2 88.9h1.9M167.8 94.7h1.9M177.6 87.5h1.9M176.2 84.3h1.9M181.4 83.1h1.9M177.7 83.3h1.9M183.4 82.4h1.9M182.0 79.8h1.9M179.3 91.2h1.9M174.7 86.8h1.9M168.2 91.4h1.9M177.6 95.7h1.9M174.8 84.4h1.9M173.1 98.4h1.9M178.6 84.6h1.9M169.7 92.7h1.9M168.8 83.2h1.9M182.9 79.9h1.9M166.9 92.4h1.9M167.7 94.6h1.9M177.5 91.3h1.9M172.6 94.5h1.9M178.8 83.7h1.9M169.9 97.8h1.9M183.0 84.0h1.9M181.0 81.7h1.9M180.1 83.0h1.9M176.0 90.4h1.9M172.8 91.8h1.9M179.7 86.4h1.9M175.3 86.9h1.9M176.1 90.6h1.9M173.2 90.4h1.9M174.7 88.7h1.9M174.7 81.7h1.9M179.2 80.9h1.9M182.4 81.4h1.9M173.4 96.1h1.9M169.4 88.3h1.9M172.1 86.2h1.9M175.9 86.0h1.9M170.8 87.9h1.9M172.9 94.6h1.9M168.4 93.9h1.9M168.6 86.7h1.9M175.4 88.7h1.9M184.8 81.6h1.9M180.4 79.5h1.9M182.2 82.4h1.9M180.6 77.6h1.9M185.5 82.5h1.9M177.2 85.4h1.9M176.8 79.1h1.9M168.1 94.3h1.9M176.4 83.0h1.9M180.8 89.1h1.9M174.8 93.2h1.9M174.7 84.6h1.9M184.2 81.6h1.9M174.2 87.0h1.9M177.4 84.7h1.9M172.7 91.2h1.9M175.7 92.6h1.9M182.6 82.2h1.9M166.4 93.8h1.9M171.8 93.8h1.9M178.2 84.6h1.9M171.0 85.1h1.9M171.3 96.5h1.9M178.9 85.8h1.9M174.5 90.6h1.9M177.2 86.7h1.9M174.2 89.0h1.9M172.9 84.3h1.9M176.9 86.9h1.9M175.7 91.0h1.9M171.9 96.2h1.9M171.1 93.4h1.9M181.5 81.0h1.9M176.3 86.8h1.9M173.2 97.5h1.9M179.2 79.8h1.9M168.8 89.0h1.9M168.6 93.7h1.9M175.4 86.5h1.9M172.3 92.3h1.9M175.7 88.1h1.9M175.7 86.1h1.9M176.1 96.6h1.9M177.4 87.1h1.9M171.3 95.7h1.9M173.7 85.5h1.9M176.5 85.7h1.9M168.1 93.7h1.9M173.5 88.5h1.9M167.9 93.8h1.9M171.9 86.1h1.9M182.5 82.8h1.9M175.4 86.0h1.9M178.6 83.8h1.9M177.1 81.1h1.9M171.1 95.5h1.9M186.0 82.1h1.9M179.1 84.1h1.9M168.1 93.0h1.9M182.1 83.4h1.9M172.0 87.7h1.9M170.4 93.1h1.9M182.4 79.7h1.9M174.8 84.9h1.9M181.4 84.5h1.9M169.2 93.0h1.9M178.3 81.6h1.9M166.7 93.2h1.9M171.7 92.3h1.9M174.6 90.7h1.9M169.8 97.3h1.9M173.6 82.9h1.9M172.6 93.8h1.9M170.8 89.5h1.9M178.0 83.4h1.9M174.4 88.9h1.9M180.8 80.5h1.9M181.1 89.0h1.9M182.2 82.2h1.9M178.7 88.5h1.9M182.2 80.8h1.9M182.8 82.9h1.9M165.9 89.0h1.9M178.1 82.4h1.9M173.3 90.5h1.9M179.1 82.7h1.9M177.7 84.0h1.9M180.1 81.7h1.9M168.7 93.0h1.9M175.4 91.4h1.9M180.2 84.6h1.9M180.7 78.5h1.9M177.8 82.8h1.9M171.2 97.8h1.9M179.6 88.1h1.9M169.5 94.5h1.9M175.4 86.0h1.9M182.2 84.4h1.9M172.6 96.9h1.9M183.3 81.6h1.9M177.7 84.2h1.9M172.7 92.6h1.9M173.3 95.0h1.9M177.6 91.2h1.9M179.8 81.1h1.9M174.7 84.3h1.9M166.8 91.5h1.9M167.6 95.2h1.9M168.0 92.7h1.9M179.9 82.3h1.9M171.5 93.7h1.9M176.0 86.3h1.9M172.3 91.1h1.9M177.5 83.6h1.9M175.5 91.3h1.9M172.6 96.0h1.9M179.8 79.9h1.9M173.7 84.7h1.9M177.3 83.4h1.9M182.0 84.1h1.9M185.5 82.9h1.9M166.5 94.3h1.9M170.2 87.5h1.9M166.4 90.0h1.9M172.7 84.9h1.9M183.0 82.9h1.9M181.3 83.6h1.9M166.6 93.8h1.9M167.4 89.9h1.9M180.8 82.6h1.9M175.5 82.0h1.9M172.2 87.8h1.9M174.0 86.9h1.9M171.8 94.8h1.9M177.2 78.5h1.9M175.3 90.7h1.9M182.8 82.7h1.9M180.1 88.4h1.9M168.7 94.5h1.9M176.4 93.7h1.9M171.7 92.9h1.9M182.0 81.4h1.9M173.9 83.4h1.9M168.0 94.8h1.9M172.7 95.2h1.9M172.0 88.6h1.9M175.0 88.1h1.9M176.2 85.9h1.9M175.8 91.4h1.9M176.1 92.6h1.9M166.9 94.9h1.9M177.6 87.0h1.9M171.7 89.2h1.9M166.9 94.5h1.9M173.3 86.8h1.9M183.8 80.2h1.9M166.5 93.3h1.9M170.3 93.7h1.9M182.5 88.8h1.9M173.9 93.1h1.9M172.3 91.6h1.9M175.5 87.6h1.9M169.5 89.4h1.9M174.8 84.8h1.9M174.3 85.6h1.9M186.0 83.1h1.9M188.6 84.4h1.9M169.3 96.3h1.9M169.3 79.9h1.9M176.3 79.9h1.9M182.1 82.1h1.9M180.9 84.0h1.9M175.6 83.5h1.9M174.2 82.2h1.9M169.9 86.7h1.9M172.2 91.3h1.9M175.2 78.1h1.9M182.5 82.5h1.9M183.0 80.9h1.9M180.1 86.2h1.9M169.7 88.3h1.9M178.1 81.8h1.9M177.6 82.1h1.9M171.5 83.6h1.9M178.4 86.0h1.9M174.0 90.9h1.9M177.1 87.5h1.9M174.7 89.8h1.9M169.5 95.6h1.9M173.8 91.0h1.9M170.5 88.5h1.9M182.6 79.0h1.9M174.2 86.9h1.9M173.2 89.5h1.9M173.1 93.3h1.9M167.1 88.0h1.9M171.4 88.5h1.9M172.8 96.4h1.9M165.9 94.0h1.9M180.7 80.9h1.9M178.7 92.0h1.9M174.6 88.4h1.9M175.5 85.5h1.9M172.0 90.5h1.9M169.3 92.1h1.9M168.7 94.8h1.9M174.4 92.7h1.9M169.8 88.2h1.9M180.0 84.7h1.9M174.7 85.3h1.9M182.8 80.8h1.9M174.0 91.2h1.9M181.5 80.0h1.9M175.2 84.8h1.9M165.7 91.6h1.9M169.7 92.1h1.9M176.2 85.7h1.9M183.9 80.3h1.9M172.9 89.6h1.9M182.9 85.9h1.9M173.9 88.3h1.9M184.3 84.3h1.9M167.0 93.1h1.9M175.6 88.1h1.9M182.2 81.4h1.9M167.8 87.4h1.9M176.6 96.1h1.9M170.7 97.9h1.9M171.6 94.4h1.9M170.1 89.8h1.9M182.3 87.6h1.9M168.8 90.1h1.9M173.0 88.4h1.9M168.9 90.8h1.9M179.6 88.2h1.9M182.4 82.6h1.9M185.0 91.8h1.9M171.4 93.2h1.9M178.1 82.8h1.9M182.7 79.9h1.9M178.6 87.3h1.9M169.8 95.3h1.9M178.2 80.5h1.9M185.8 85.4h1.9M169.7 87.2h1.9M169.7 93.5h1.9M180.8 102.2h1.9M176.5 87.4h1.9M182.6 82.6h1.9M180.0 87.4h1.9M184.7 83.0h1.9M169.1 90.5h1.9M171.8 89.5h1.9M180.0 84.0h1.9M176.6 84.0h1.9M170.7 86.1h1.9M176.4 82.9h1.9M172.9 90.2h1.9M166.6 93.1h1.9M173.8 88.7h1.9M168.0 94.8h1.9M175.6 83.8h1.9M173.1 90.5h1.9M173.6 86.0h1.9M180.0 88.7h1.9M168.9 89.0h1.9M176.3 89.5h1.9M165.5 93.4h1.9M183.9 82.2h1.9M177.1 87.1h1.9M176.4 73.3h1.9M166.5 93.0h1.9M179.2 87.5h1.9M179.5 84.4h1.9M172.9 90.4h1.9M168.1 93.4h1.9M172.8 95.8h1.9M171.7 95.2h1.9M180.6 84.0h1.9M175.7 100.5h1.9M182.1 83.9h1.9M171.8 86.5h1.9M175.8 86.6h1.9M177.7 86.9h1.9M176.8 87.1h1.9M179.5 86.4h1.9M177.5 86.3h1.9M176.0 93.3h1.9M176.4 80.9h1.9M170.1 90.1h1.9M184.2 89.1h1.9M179.5 83.1h1.9M179.8 83.0h1.9M174.7 92.7h1.9M180.9 84.2h1.9M183.7 80.4h1.9M175.4 88.9h1.9M173.3 92.4h1.9M176.5 87.8h1.9M182.8 80.6h1.9M168.3 92.3h1.9M157.6 86.3h1.9M172.6 85.7h1.9M178.2 85.3h1.9M178.2 81.6h1.9M171.2 87.9h1.9M182.0 78.4h1.9M172.4 93.1h1.9M178.0 82.0h1.9M169.5 94.8h1.9M167.6 94.9h1.9M171.5 95.2h1.9M167.0 93.3h1.9M180.3 91.9h1.9M178.7 88.9h1.9M169.3 91.7h1.9M183.6 81.5h1.9M175.2 91.4h1.9M170.4 93.7h1.9M173.0 95.2h1.9M185.9 89.9h1.9M184.7 83.0h1.9M167.1 90.3h1.9M166.7 94.0h1.9M177.9 81.2h1.9M174.8 94.9h1.9M180.1 76.9h1.9M179.9 91.7h1.9M179.0 86.6h1.9M179.7 96.3h1.9M181.3 83.6h1.9M176.6 89.9h1.9M174.9 92.5h1.9M183.5 82.5h1.9M169.3 94.0h1.9M180.8 85.2h1.9M172.3 98.0h1.9M174.1 81.7h1.9M175.0 90.2h1.9M181.8 82.1h1.9M168.2 94.4h1.9M178.3 88.2h1.9M177.5 92.2h1.9M183.3 81.8h1.9M181.8 79.6h1.9M180.8 88.5h1.9M178.3 98.7h1.9M167.9 88.2h1.9M171.2 91.0h1.9M172.9 87.2h1.9M170.8 91.6h1.9M169.0 90.7h1.9M179.1 82.9h1.9M177.2 84.7h1.9M169.5 88.3h1.9M181.3 77.6h1.9M169.9 91.2h1.9M176.4 86.2h1.9M169.3 92.5h1.9M181.3 81.7h1.9M189.8 89.4h1.9M175.2 94.5h1.9M181.4 85.2h1.9M183.8 85.2h1.9M170.3 89.5h1.9M175.0 92.4h1.9M175.0 87.6h1.9M179.4 79.1h1.9M172.7 95.5h1.9M178.2 84.4h1.9M178.0 86.9h1.9M179.4 92.6h1.9M177.0 86.5h1.9M180.4 80.2h1.9M168.5 90.1h1.9M178.1 78.1h1.9M169.9 86.8h1.9M178.8 81.9h1.9M178.7 79.3h1.9M170.9 93.2h1.9M183.1 83.3h1.9M186.2 82.2h1.9M171.5 90.1h1.9M173.8 100.7h1.9M161.7 86.9h1.9M184.2 80.9h1.9M168.3 96.1h1.9M182.5 81.3h1.9M178.7 101.4h1.9M174.8 79.6h1.9M168.1 93.2h1.9M175.0 97.3h1.9M179.6 85.8h1.9M167.6 93.0h1.9M178.6 95.4h1.9M182.9 81.5h1.9M181.7 86.6h1.9M185.6 85.1h1.9M182.1 78.8h1.9M164.8 92.1h1.9M172.1 92.7h1.9M181.1 83.7h1.9M178.0 84.0h1.9M170.9 97.7h1.9M173.4 85.5h1.9M170.6 91.4h1.9M172.8 87.2h1.9M169.2 94.0h1.9M169.4 96.8h1.9M183.2 79.5h1.9M169.0 87.3h1.9M181.3 81.2h1.9M168.8 93.2h1.9M180.2 92.3h1.9M171.1 94.8h1.9M175.0 89.4h1.9M168.3 90.8h1.9M178.3 84.4h1.9M171.6 94.9h1.9M175.3 80.0h1.9M177.2 89.1h1.9M168.6 93.2h1.9M169.7 86.8h1.9M174.2 86.5h1.9M183.2 81.8h1.9M173.8 90.7h1.9M168.6 90.0h1.9M184.3 81.2h1.9M183.0 82.6h1.9M179.5 84.1h1.9M174.5 93.7h1.9M169.0 91.6h1.9M168.8 88.7h1.9M168.1 94.1h1.9M170.7 97.3h1.9M174.6 86.5h1.9M173.5 88.6h1.9M174.8 85.2h1.9M175.0 91.4h1.9M169.2 96.9h1.9M177.5 83.6h1.9M180.9 87.9h1.9M175.4 86.1h1.9M179.5 89.8h1.9M178.7 84.6h1.9M187.0 83.2h1.9M179.5 79.7h1.9M179.7 84.7h1.9M174.0 89.4h1.9M172.2 90.2h1.9M171.0 85.9h1.9M183.5 80.3h1.9M168.6 84.7h1.9M172.3 88.2h1.9M176.1 90.9h1.9M173.0 96.4h1.9M186.2 82.1h1.9M167.0 95.0h1.9M174.6 83.4h1.9M182.5 80.9h1.9M176.8 96.3h1.9M179.4 87.8h1.9M175.3 91.2h1.9M168.0 88.7h1.9M166.7 88.8h1.9M169.9 94.3h1.9M182.1 83.0h1.9M182.1 84.9h1.9M180.2 79.2h1.9M167.1 93.7h1.9M174.1 80.3h1.9M167.4 85.5h1.9M180.5 87.7h1.9M176.4 86.9h1.9M170.3 88.4h1.9M183.0 79.9h1.9M167.7 95.8h1.9M179.7 83.8h1.9M182.5 83.1h1.9M172.0 84.0h1.9M176.5 85.6h1.9M181.9 78.2h1.9M173.5 94.0h1.9M180.9 88.6h1.9M177.4 81.8h1.9M171.3 87.5h1.9M181.0 86.1h1.9M175.2 90.6h1.9M177.9 89.0h1.9M176.7 85.2h1.9M175.9 82.4h1.9M172.3 90.1h1.9M178.7 86.5h1.9M178.1 88.7h1.9M169.5 90.6h1.9M177.8 86.2h1.9M173.5 93.0h1.9M182.1 81.0h1.9M173.8 86.9h1.9M176.9 82.0h1.9M172.8 84.4h1.9M173.7 86.6h1.9M166.8 88.2h1.9M167.0 90.8h1.9M183.6 81.8h1.9M176.6 87.7h1.9M175.4 86.8h1.9M176.7 87.9h1.9M176.8 79.1h1.9M169.9 90.5h1.9M168.5 91.3h1.9M180.5 82.3h1.9M174.3 87.7h1.9M177.3 84.9h1.9M179.4 81.0h1.9M181.0 80.4h1.9M185.1 85.0h1.9M172.5 99.0h1.9M174.2 90.0h1.9M182.1 83.4h1.9M181.0 82.9h1.9M167.7 92.1h1.9M170.8 93.9h1.9M174.1 94.0h1.9M168.3 93.3h1.9M175.0 91.5h1.9M180.4 82.7h1.9M174.3 85.9h1.9M172.8 86.5h1.9M166.7 92.3h1.9M178.6 93.7h1.9M180.7 77.0h1.9M181.8 87.4h1.9M176.7 90.2h1.9M175.7 88.4h1.9M181.0 83.4h1.9M182.9 86.4h1.9M166.3 89.9h1.9M178.9 85.1h1.9M176.8 92.9h1.9M178.3 89.5h1.9M171.3 91.8h1.9M174.6 90.8h1.9M171.3 88.7h1.9M171.8 87.8h1.9M166.6 94.3h1.9M170.7 92.4h1.9M177.7 87.4h1.9M171.0 97.1h1.9M167.9 90.6h1.9M178.3 83.4h1.9M175.3 94.4h1.9M186.8 72.5h1.9M188.8 76.9h1.9M197.8 66.9h1.9M185.3 78.3h1.9M193.0 68.6h1.9M198.2 66.5h1.9M186.2 75.7h1.9M196.3 78.2h1.9M198.7 69.0h1.9M191.4 67.7h1.9M192.7 76.5h1.9M187.3 81.6h1.9M189.4 71.3h1.9M183.8 68.3h1.9M193.4 66.6h1.9M185.8 72.4h1.9M190.7 73.5h1.9M190.9 66.3h1.9M197.8 67.6h1.9M188.3 73.0h1.9M190.4 73.9h1.9M196.3 73.4h1.9M200.3 66.4h1.9M186.0 75.8h1.9M198.5 63.3h1.9M193.0 66.2h1.9M191.5 75.3h1.9M193.7 68.3h1.9M188.9 74.3h1.9M183.3 77.1h1.9M196.3 67.9h1.9M192.3 75.8h1.9M189.6 68.8h1.9M191.9 71.8h1.9M197.7 64.7h1.9M195.3 66.9h1.9M181.8 77.2h1.9M191.5 68.5h1.9M194.2 75.0h1.9M191.5 72.6h1.9M198.1 67.0h1.9M192.6 75.1h1.9M190.9 71.6h1.9M196.1 63.5h1.9M194.6 76.1h1.9M190.1 70.4h1.9M192.2 71.7h1.9M196.9 66.3h1.9M195.5 69.8h1.9M200.4 72.2h1.9M193.9 76.6h1.9M191.1 85.3h1.9M192.7 66.9h1.9M195.2 73.1h1.9M198.0 69.0h1.9M192.3 63.7h1.9M186.8 78.9h1.9M188.8 77.5h1.9M187.1 80.4h1.9M198.9 68.4h1.9M183.4 76.2h1.9M183.2 76.5h1.9M194.8 66.6h1.9M193.3 71.0h1.9M182.8 77.2h1.9M196.7 70.6h1.9M195.6 68.6h1.9M190.7 71.2h1.9M186.4 80.5h1.9M194.5 68.3h1.9M189.4 71.9h1.9M191.5 68.8h1.9M199.7 63.5h1.9M196.9 66.6h1.9M199.6 67.4h1.9M185.2 76.5h1.9M191.5 76.5h1.9M192.3 71.6h1.9M180.8 76.8h1.9M191.7 56.4h1.9M187.0 74.2h1.9M187.3 74.9h1.9M188.9 74.8h1.9M189.0 76.6h1.9M200.1 68.3h1.9M191.2 69.4h1.9M191.4 70.9h1.9M196.8 78.8h1.9M186.9 81.1h1.9M186.8 73.1h1.9M201.3 69.1h1.9M195.7 65.9h1.9M197.4 65.8h1.9M195.5 82.7h1.9M186.9 76.3h1.9M186.5 80.6h1.9M191.2 70.0h1.9M191.1 74.9h1.9M190.6 71.6h1.9M189.8 70.1h1.9M194.0 71.1h1.9M191.5 75.6h1.9M196.5 66.7h1.9M185.4 75.0h1.9M198.7 65.1h1.9M191.9 70.0h1.9M186.4 80.6h1.9M190.2 76.0h1.9M191.4 70.3h1.9M195.7 78.1h1.9M192.6 70.4h1.9M189.1 74.6h1.9M191.0 78.0h1.9M199.0 69.1h1.9M187.8 74.5h1.9M196.6 69.6h1.9M197.0 67.1h1.9M191.1 68.1h1.9M192.2 73.4h1.9M197.5 63.4h1.9M189.1 70.9h1.9M196.9 64.7h1.9M183.7 77.9h1.9M193.5 75.3h1.9M190.6 66.2h1.9M183.3 77.8h1.9M192.0 60.6h1.9M185.1 78.7h1.9M190.6 67.6h1.9M184.7 75.0h1.9M201.2 67.3h1.9M196.2 73.9h1.9M198.3 68.4h1.9M188.7 68.9h1.9M196.3 70.5h1.9M196.1 70.2h1.9M190.8 77.1h1.9M185.3 74.6h1.9M199.1 67.9h1.9M185.2 76.6h1.9M199.3 65.6h1.9M184.4 73.9h1.9M186.9 79.5h1.9M186.6 79.4h1.9M196.5 67.2h1.9M194.4 60.1h1.9M191.4 73.9h1.9M196.3 70.9h1.9M191.0 78.4h1.9M198.1 64.9h1.9M196.1 69.9h1.9M185.4 76.4h1.9M182.5 76.8h1.9M190.4 64.3h1.9M187.6 82.0h1.9M197.4 66.4h1.9M191.0 77.3h1.9M186.5 75.0h1.9M192.3 69.5h1.9M189.4 75.1h1.9M193.8 71.6h1.9M185.2 76.3h1.9M202.1 68.4h1.9M192.1 77.4h1.9M197.2 66.1h1.9M191.9 82.5h1.9M196.5 66.7h1.9M199.8 64.2h1.9M192.5 75.7h1.9M188.3 82.9h1.9M190.0 73.7h1.9M193.8 69.2h1.9M189.0 77.7h1.9M193.6 71.9h1.9M192.5 84.9h1.9M189.5 70.6h1.9M196.1 68.6h1.9M187.4 69.8h1.9M193.5 67.7h1.9M186.3 78.5h1.9M195.9 65.3h1.9M186.4 78.4h1.9M199.8 65.9h1.9M199.3 63.2h1.9M201.0 66.6h1.9M189.7 68.9h1.9M188.5 75.1h1.9M190.5 75.2h1.9M196.4 68.2h1.9M190.0 70.1h1.9M202.5 68.2h1.9M187.2 80.0h1.9M190.0 70.4h1.9M197.8 65.9h1.9M197.5 73.9h1.9M192.1 70.7h1.9M189.7 82.5h1.9M189.6 80.8h1.9M187.8 75.1h1.9M198.1 65.3h1.9M199.8 68.3h1.9M188.3 76.9h1.9M200.6 66.6h1.9M186.4 81.2h1.9M190.7 67.6h1.9M200.0 64.8h1.9M190.0 74.8h1.9M201.8 67.1h1.9M193.7 68.6h1.9M184.0 78.4h1.9M186.1 71.5h1.9M191.8 73.2h1.9M186.8 74.9h1.9M196.0 68.1h1.9M185.7 76.0h1.9M195.0 65.7h1.9M188.5 74.9h1.9M185.0 78.7h1.9M194.5 72.4h1.9M184.0 76.9h1.9M190.0 68.4h1.9M197.5 68.0h1.9M193.2 70.0h1.9M192.6 73.6h1.9M186.8 81.5h1.9M191.0 70.5h1.9M184.5 77.4h1.9M191.4 66.8h1.9M182.2 74.2h1.9M195.4 72.6h1.9M189.9 74.5h1.9M190.0 73.9h1.9M196.3 70.8h1.9M184.8 75.6h1.9M185.0 75.6h1.9M201.4 66.9h1.9M189.4 74.6h1.9M198.2 67.0h1.9M199.4 67.1h1.9M189.3 70.0h1.9M185.8 77.0h1.9M186.3 79.2h1.9M197.2 64.9h1.9M184.5 76.8h1.9M192.7 72.6h1.9M190.6 69.4h1.9M183.4 75.8h1.9M188.3 69.4h1.9M191.4 81.7h1.9M192.0 70.8h1.9M192.6 72.2h1.9M190.4 74.5h1.9M187.3 76.9h1.9M192.0 74.8h1.9M187.0 76.4h1.9M185.2 77.1h1.9M184.9 73.3h1.9M198.3 66.2h1.9M190.7 70.6h1.9M197.1 64.4h1.9M180.5 76.3h1.9M198.2 63.9h1.9M193.9 74.0h1.9M193.9 64.6h1.9M194.2 71.7h1.9M195.1 68.9h1.9M187.6 76.2h1.9M199.6 71.1h1.9M187.2 78.1h1.9M186.3 73.9h1.9M184.9 79.9h1.9M189.8 73.1h1.9M192.7 72.0h1.9M186.2 72.9h1.9M197.3 64.6h1.9M184.8 78.0h1.9M187.9 65.6h1.9M188.8 77.1h1.9M189.8 66.8h1.9M199.6 70.1h1.9M194.3 67.4h1.9M185.5 79.4h1.9M187.9 75.9h1.9M195.2 71.8h1.9M200.4 64.6h1.9M184.2 78.8h1.9M193.2 69.3h1.9M195.4 69.0h1.9M195.0 64.9h1.9M190.7 75.5h1.9M197.7 67.5h1.9M191.1 72.2h1.9M198.7 65.0h1.9M184.7 80.3h1.9M199.4 65.0h1.9M192.2 74.7h1.9M192.5 75.2h1.9M187.1 80.1h1.9M186.9 75.1h1.9M205.7 77.3h1.9M194.9 69.0h1.9M187.0 78.1h1.9M187.2 72.2h1.9M187.3 78.7h1.9M187.2 76.7h1.9M181.3 70.6h1.9M186.9 72.4h1.9M199.8 64.3h1.9M200.3 64.2h1.9M195.0 65.6h1.9M191.8 72.3h1.9M190.1 70.2h1.9M195.4 66.3h1.9M198.7 65.4h1.9M198.3 69.9h1.9M194.5 69.9h1.9M187.3 76.8h1.9M195.0 70.7h1.9M198.0 66.6h1.9M198.4 68.8h1.9M187.0 79.9h1.9M195.0 67.8h1.9M189.7 74.4h1.9M187.6 78.3h1.9M200.3 65.1h1.9M195.0 69.3h1.9M192.4 64.6h1.9M187.7 79.2h1.9M195.4 64.8h1.9M198.7 64.5h1.9M195.7 62.7h1.9M195.6 67.6h1.9M197.5 66.6h1.9M196.2 66.4h1.9M194.5 71.3h1.9M190.6 72.6h1.9M194.8 64.3h1.9M195.0 65.8h1.9M199.9 67.6h1.9M189.1 75.4h1.9M200.7 65.6h1.9M191.6 70.5h1.9M199.3 64.8h1.9M174.6 67.7h1.9M200.0 64.7h1.9M195.8 66.5h1.9M186.8 74.7h1.9M193.4 62.6h1.9M187.5 76.0h1.9M187.0 76.6h1.9M191.7 72.8h1.9M186.5 74.9h1.9M191.7 71.8h1.9M199.5 66.1h1.9M194.9 68.8h1.9M199.4 72.2h1.9M191.6 74.8h1.9M194.8 65.6h1.9M194.7 65.3h1.9M195.7 69.6h1.9M197.6 63.3h1.9M199.2 68.4h1.9M187.9 71.0h1.9M182.1 75.5h1.9M194.0 69.0h1.9M198.0 66.9h1.9M188.5 73.6h1.9M191.0 68.0h1.9M197.8 66.8h1.9M196.5 67.0h1.9M183.5 79.4h1.9M190.9 71.2h1.9M181.6 77.2h1.9M184.1 76.6h1.9M200.2 69.7h1.9M191.9 74.3h1.9M194.5 70.9h1.9M194.3 75.3h1.9M187.5 72.8h1.9M185.8 75.0h1.9M191.3 75.7h1.9M196.5 65.3h1.9M193.3 69.3h1.9M187.7 74.3h1.9M183.7 76.9h1.9M186.4 73.8h1.9M193.2 66.8h1.9M192.1 73.7h1.9M195.1 69.8h1.9M194.7 64.8h1.9M184.2 76.4h1.9M194.0 68.1h1.9M182.4 77.2h1.9M197.3 66.8h1.9M186.0 76.1h1.9M190.3 77.3h1.9M200.0 65.1h1.9M185.6 70.2h1.9M188.6 77.2h1.9M197.5 64.8h1.9M192.6 69.0h1.9M196.6 63.9h1.9M192.2 75.3h1.9M192.2 72.0h1.9M199.9 65.0h1.9M193.8 73.3h1.9M198.6 62.8h1.9M183.4 73.5h1.9M196.0 65.3h1.9M188.1 78.7h1.9M193.8 72.6h1.9M184.7 80.6h1.9M186.7 77.0h1.9M198.3 63.8h1.9M192.4 73.6h1.9M195.5 65.5h1.9M190.1 77.8h1.9M188.6 73.3h1.9M182.5 75.4h1.9M193.5 71.6h1.9M197.2 65.4h1.9M191.7 71.2h1.9M189.9 73.8h1.9M197.8 63.9h1.9M198.0 65.2h1.9M197.4 71.7h1.9M183.1 76.8h1.9M194.1 70.0h1.9M193.0 74.5h1.9M202.6 67.5h1.9M192.2 76.3h1.9M194.4 69.0h1.9M195.7 71.2h1.9M191.4 75.2h1.9M190.8 70.0h1.9M193.4 67.6h1.9M200.3 66.9h1.9M193.5 73.3h1.9M192.6 76.6h1.9M198.5 63.1h1.9M186.6 80.6h1.9M201.6 70.3h1.9M196.4 70.3h1.9M193.1 71.1h1.9M189.8 71.4h1.9M195.8 67.6h1.9M199.2 66.4h1.9M194.1 66.7h1.9M194.4 66.4h1.9M181.7 76.8h1.9M187.8 73.4h1.9M189.1 80.4h1.9M197.3 62.7h1.9M200.5 67.6h1.9M193.1 83.8h1.9M193.3 70.3h1.9M194.6 71.9h1.9M186.7 81.0h1.9M191.3 74.6h1.9M194.2 66.2h1.9M193.7 69.0h1.9M188.1 75.1h1.9M197.3 68.7h1.9M187.5 74.1h1.9M195.1 73.3h1.9M188.5 71.1h1.9M197.5 62.1h1.9M194.0 69.0h1.9M196.2 66.3h1.9M195.2 69.3h1.9M187.7 71.6h1.9M198.8 63.8h1.9M201.8 74.4h1.9M192.6 66.5h1.9M189.9 76.8h1.9M181.7 72.8h1.9M193.7 71.1h1.9M197.5 66.8h1.9M197.6 67.9h1.9M189.5 74.2h1.9M186.1 77.5h1.9M190.3 69.8h1.9M197.9 65.6h1.9M184.3 75.2h1.9M193.6 66.0h1.9M182.5 73.3h1.9M191.0 76.8h1.9M183.9 78.2h1.9M189.9 76.2h1.9M190.7 74.3h1.9M200.3 65.1h1.9M201.6 66.4h1.9M185.3 75.4h1.9M188.1 74.1h1.9M198.2 63.8h1.9M187.4 77.0h1.9M191.9 77.3h1.9M189.2 71.2h1.9M185.2 77.7h1.9M187.4 75.1h1.9M191.1 74.3h1.9M189.4 73.0h1.9M195.5 60.7h1.9M186.0 73.5h1.9M185.4 74.9h1.9M197.0 63.8h1.9M192.8 74.1h1.9M198.9 67.8h1.9M195.1 70.5h1.9M195.7 66.7h1.9M188.3 74.1h1.9M189.1 79.9h1.9M197.1 68.6h1.9M190.7 71.6h1.9M193.6 71.6h1.9M193.6 68.0h1.9M195.5 67.3h1.9M185.1 72.4h1.9M189.0 73.3h1.9M198.4 64.8h1.9M208.8 55.5h1.9M206.1 60.5h1.9M209.0 52.6h1.9M204.0 59.4h1.9M212.6 51.5h1.9M199.7 62.2h1.9M213.8 50.9h1.9M211.1 56.5h1.9M206.3 58.6h1.9M217.7 51.0h1.9M203.3 58.5h1.9M203.5 59.4h1.9M203.0 64.4h1.9M208.4 54.5h1.9M216.7 55.9h1.9M213.7 55.4h1.9M206.2 56.7h1.9M216.1 53.6h1.9M202.2 62.3h1.9M204.8 58.7h1.9M210.1 53.1h1.9M218.2 50.6h1.9M211.5 54.7h1.9M211.3 52.8h1.9M210.5 49.5h1.9M206.8 57.8h1.9M218.2 51.4h1.9M214.6 54.2h1.9M204.6 57.4h1.9M207.8 58.8h1.9M213.5 51.3h1.9M207.0 59.4h1.9M200.4 58.4h1.9M214.3 50.0h1.9M211.2 57.6h1.9M208.1 55.1h1.9M210.0 52.3h1.9M216.6 51.2h1.9M205.2 64.5h1.9M205.6 58.4h1.9M201.4 63.0h1.9M207.6 58.0h1.9M210.4 57.8h1.9M214.5 50.8h1.9M210.4 52.6h1.9M207.1 52.4h1.9M204.8 55.6h1.9M207.0 52.5h1.9M203.6 58.6h1.9M214.0 50.5h1.9M212.4 50.8h1.9M214.5 51.2h1.9M200.7 59.7h1.9M210.3 52.5h1.9M211.7 51.2h1.9M209.0 56.6h1.9M214.7 49.5h1.9M216.4 51.0h1.9M213.9 53.6h1.9M213.0 50.3h1.9M208.3 51.3h1.9M214.9 50.3h1.9M200.8 60.4h1.9M211.7 52.8h1.9M212.5 53.5h1.9M210.3 54.3h1.9M203.5 58.4h1.9M203.6 65.0h1.9M208.8 53.2h1.9M215.9 52.9h1.9M203.7 58.7h1.9M202.0 59.0h1.9M205.0 61.5h1.9M202.5 63.2h1.9M214.4 56.1h1.9M217.0 49.3h1.9M212.7 50.7h1.9M205.0 57.2h1.9M212.7 53.8h1.9M201.0 62.4h1.9M213.5 50.2h1.9M206.7 59.9h1.9M199.1 62.8h1.9M212.9 56.2h1.9M200.9 60.3h1.9M203.0 58.0h1.9M202.2 64.0h1.9M208.6 57.9h1.9M209.4 55.2h1.9M213.1 50.8h1.9M201.8 64.2h1.9M215.3 52.2h1.9M202.3 62.4h1.9M205.8 62.2h1.9M213.0 56.3h1.9M205.2 58.0h1.9M206.7 59.7h1.9M209.2 54.6h1.9M205.1 61.8h1.9M213.7 51.8h1.9M203.4 60.4h1.9M214.2 50.9h1.9M213.7 51.3h1.9M212.6 58.7h1.9M201.7 64.4h1.9M214.6 53.1h1.9M201.9 64.6h1.9M208.0 55.5h1.9M209.1 59.0h1.9M203.3 64.8h1.9M212.9 56.1h1.9M213.1 53.4h1.9M210.1 55.0h1.9M206.0 56.9h1.9M209.1 56.3h1.9M209.7 54.5h1.9M202.9 59.4h1.9M215.1 50.9h1.9M217.5 49.1h1.9M213.8 51.6h1.9M216.2 48.9h1.9M205.8 58.9h1.9M217.0 48.9h1.9M202.2 63.6h1.9M208.8 57.1h1.9M202.5 61.9h1.9M207.3 56.4h1.9M211.5 53.2h1.9M210.9 51.9h1.9M207.2 56.3h1.9M204.2 57.1h1.9M203.4 61.0h1.9M209.2 59.7h1.9M202.7 57.5h1.9M202.7 60.3h1.9M211.8 51.8h1.9M208.3 55.5h1.9M205.9 55.7h1.9M205.6 62.8h1.9M211.2 52.3h1.9M204.0 61.4h1.9M206.0 61.0h1.9M209.2 54.9h1.9M210.1 51.4h1.9M218.5 50.7h1.9M209.9 49.7h1.9M215.7 48.9h1.9M214.7 48.9h1.9M212.5 52.9h1.9M211.8 52.3h1.9M200.0 61.8h1.9M204.5 61.5h1.9M198.9 62.3h1.9M213.7 49.7h1.9M212.9 53.3h1.9M209.0 52.6h1.9M205.3 60.4h1.9M209.1 61.1h1.9M202.9 61.4h1.9M210.2 53.6h1.9M217.9 49.6h1.9M206.7 60.5h1.9M200.1 62.5h1.9M201.6 59.8h1.9M206.1 58.4h1.9M214.7 49.5h1.9M214.3 52.1h1.9M206.9 56.0h1.9M207.1 67.1h1.9M200.6 61.0h1.9M201.1 60.0h1.9M211.7 50.5h1.9M207.1 55.7h1.9M216.9 48.7h1.9M214.3 48.8h1.9M214.8 52.8h1.9M206.6 55.1h1.9M214.2 51.4h1.9M200.1 59.8h1.9M201.1 61.4h1.9M208.7 54.3h1.9M210.2 57.4h1.9M202.1 59.2h1.9M203.4 59.1h1.9M199.2 62.4h1.9M216.6 50.9h1.9M212.7 53.5h1.9M214.7 48.0h1.9M217.5 49.6h1.9M209.4 58.9h1.9M210.4 50.7h1.9M203.4 55.0h1.9M215.2 52.6h1.9M214.1 50.7h1.9M203.2 62.6h1.9M200.8 64.1h1.9M204.7 61.5h1.9M211.2 55.9h1.9M206.2 57.7h1.9M201.5 64.9h1.9M216.5 53.3h1.9M213.3 51.7h1.9M204.5 53.6h1.9M202.7 64.9h1.9M212.6 47.9h1.9M205.7 52.5h1.9M203.1 64.4h1.9M205.6 58.9h1.9M212.0 55.5h1.9M215.4 50.6h1.9M207.4 55.5h1.9M209.9 53.1h1.9M204.8 61.8h1.9M202.6 58.7h1.9M214.9 49.5h1.9M205.9 57.4h1.9M202.1 62.4h1.9M209.7 54.4h1.9M201.8 61.5h1.9M203.5 60.8h1.9M212.7 61.4h1.9M210.6 55.4h1.9M215.8 58.6h1.9M208.4 49.6h1.9M207.8 57.3h1.9M201.7 63.2h1.9M212.9 53.2h1.9M199.5 61.6h1.9M207.1 55.8h1.9M204.8 55.8h1.9M211.4 53.4h1.9M211.5 52.3h1.9M203.0 59.1h1.9M211.8 54.6h1.9M213.2 54.5h1.9M207.4 56.0h1.9M202.5 61.7h1.9M214.9 49.3h1.9M208.3 52.9h1.9M200.5 62.3h1.9M202.5 58.6h1.9M216.4 48.4h1.9M203.9 60.3h1.9M205.7 56.9h1.9M211.9 50.4h1.9M215.6 52.7h1.9M211.4 54.7h1.9M212.9 52.7h1.9M199.9 62.4h1.9M201.0 61.8h1.9M217.9 50.0h1.9M213.2 51.1h1.9M200.1 62.7h1.9M202.8 64.8h1.9M206.9 62.6h1.9M216.7 50.3h1.9M202.8 59.5h1.9M211.4 53.5h1.9M213.8 47.7h1.9M212.0 55.1h1.9M215.1 49.2h1.9M202.6 58.0h1.9M202.6 61.4h1.9M201.6 64.7h1.9M212.8 52.1h1.9M199.3 59.9h1.9M217.8 50.1h1.9M211.5 52.4h1.9M199.7 57.7h1.9M212.3 50.1h1.9M203.0 61.5h1.9M207.8 55.1h1.9M200.4 60.8h1.9M212.3 50.7h1.9M214.9 50.0h1.9M216.1 50.3h1.9M200.7 64.3h1.9M213.0 49.4h1.9M209.3 55.1h1.9M214.7 51.9h1.9M210.8 58.2h1.9M209.7 53.5h1.9M212.0 56.4h1.9M211.0 49.1h1.9M200.4 61.7h1.9M200.7 62.7h1.9M211.3 57.3h1.9M201.5 56.1h1.9M206.0 57.0h1.9M197.6 61.3h1.9M210.6 50.5h1.9M200.7 63.6h1.9M212.7 49.8h1.9M214.1 51.7h1.9M209.4 58.3h1.9M201.8 61.6h1.9M211.1 53.9h1.9M200.8 58.1h1.9M207.7 57.6h1.9M203.7 63.8h1.9M226.5 39.1h1.9M220.8 41.8h1.9M222.0 46.5h1.9M218.5 48.1h1.9M222.8 40.3h1.9M226.5 41.5h1.9M222.3 37.6h1.9M217.4 47.0h1.9M220.8 45.1h1.9M218.4 44.2h1.9M224.5 41.3h1.9M217.1 45.8h1.9M222.2 42.0h1.9M225.6 38.2h1.9M225.2 41.8h1.9M216.5 47.9h1.9M216.8 46.9h1.9M219.1 48.3h1.9M223.9 42.0h1.9M222.6 42.6h1.9M220.9 42.4h1.9M221.4 44.1h1.9M220.5 44.2h1.9M222.9 42.6h1.9M224.2 43.1h1.9M226.1 39.9h1.9M224.1 41.4h1.9M225.3 41.4h1.9M225.4 39.3h1.9M224.9 40.2h1.9M226.2 43.7h1.9M215.8 46.8h1.9M225.8 44.0h1.9M224.1 39.2h1.9M218.5 41.8h1.9M226.4 40.9h1.9M219.6 47.6h1.9M225.4 38.8h1.9M220.9 43.8h1.9M224.2 42.0h1.9M235.8 30.0h1.9M237.8 28.6h1.9M240.4 27.7h1.9M239.6 28.7h1.9M230.1 35.6h1.9M46.8 177.5h1.9M42.8 188.3h1.9M42.8 190.9h1.9M42.8 199.9h1.9M53.8 181.0h1.9M53.8 184.8h1.9M53.5 186.0h1.9M55.0 190.9h1.9M53.8 195.1h1.9M54.4 197.5h1.9M53.8 198.9h1.9M55.0 200.7h1.9M53.0 204.2h1.9M60.3 183.0h1.9M61.5 177.1h1.9M63.8 173.9h1.9M67.5 173.9h1.9M68.0 175.3h1.9M68.6 170.0h1.9M69.8 168.8h1.9M71.5 163.5h1.9M63.8 184.8h1.9M66.2 185.4h1.9M67.5 183.6h1.9M60.3 191.8h1.9M61.5 193.0h1.9M60.3 194.8h1.9M62.0 194.8h1.9M63.8 194.8h1.9M66.8 194.8h1.9M68.6 194.2h1.9M70.3 194.8h1.9M71.0 199.5h1.9M67.5 204.2h1.9M69.8 181.8h1.9M71.0 183.0h1.9M68.8 169.4h1.9M69.3 170.6h1.9M67.5 174.2h1.9M74.0 168.3h1.9M78.2 167.1h1.9M79.3 168.3h1.9M83.0 168.8h1.9M84.6 162.4h1.9M87.6 161.2h1.9M89.5 163.5h1.9M73.5 174.7h1.9M75.2 175.9h1.9M77.0 175.3h1.9M79.3 174.7h1.9M81.8 175.3h1.9M72.3 178.9h1.9M74.0 178.3h1.9M75.8 180.0h1.9M77.6 181.2h1.9M79.3 180.6h1.9M81.8 181.2h1.9M83.5 181.8h1.9M85.2 182.4h1.9M86.5 181.2h1.9M71.1 182.4h1.9M70.0 183.6h1.9M68.8 184.8h1.9M67.0 185.9h1.9M65.8 187.1h1.9M65.2 188.3h1.9M75.2 185.4h1.9M77.0 185.9h1.9M72.8 188.3h1.9M74.0 187.1h1.9M81.8 184.8h1.9M87.6 184.2h1.9M89.5 183.6h1.9M92.3 181.2h1.9M93.0 181.8h1.9M91.8 177.7h1.9M93.0 174.2h1.9M96.5 173.6h1.9M99.5 170.6h1.9M98.2 168.8h1.9M94.8 189.5h1.9M90.5 194.8h1.9M72.8 191.3h1.9M75.8 191.8h1.9M81.8 191.3h1.9M81.5 192.8h1.9M66.5 194.8h1.9M68.1 194.8h1.9M70.0 194.2h1.9M72.3 194.8h1.9M75.8 194.8h1.9M72.3 200.1h1.9M74.0 200.7h1.9M67.5 204.2h1.9M86.5 204.2h1.9M88.8 204.2h1.9M257.1 6.1h1.9M262.1 3.9h1.9M266.2 3.1h1.9M250.2 12.9h1.9M244.9 19.8h1.9M243.8 23.4h1.9M243.0 23.4h1.9M239.8 16.3h1.9M240.8 16.3h1.9M239.4 25.8h1.9M234.0 40.4h1.9M239.5 15.8h1.9M235.6 27.0h1.9M237.1 25.5h1.9M240.9 22.2h1.9M232.8 30.4h1.9M231.0 32.3h1.9M228.8 35.6h1.9M225.6 39.5h1.9M216.9 59.0h1.9M211.7 71.2h1.9M228.1 25.5h1.9" stroke="#000" stroke-width="1.9" fill="none"/>
<rect x="196.05" y="101.20" width="2.1" height="2.1" fill="#f01616"/>
<rect x="202.70" y="101.45" width="2.1" height="2.1" fill="#f01616"/>
<rect x="205.85" y="99.55" width="2.1" height="2.1" fill="#f01616"/>
<rect x="208.70" y="102.05" width="2.1" height="2.1" fill="#f01616"/>
<rect x="205.85" y="104.20" width="2.1" height="2.1" fill="#f01616"/>
<rect x="189.95" y="102.95" width="2.1" height="2.1" fill="#f01616"/>
<rect x="199.55" y="107.45" width="2.1" height="2.1" fill="#f01616"/>
<rect x="189.95" y="109.20" width="2.1" height="2.1" fill="#f01616"/>
<rect x="198.95" y="111.05" width="2.1" height="2.1" fill="#f01616"/>
<rect x="178.95" y="109.95" width="2.1" height="2.1" fill="#f01616"/>
<rect x="181.20" y="108.35" width="2.1" height="2.1" fill="#f01616"/>
<rect x="216.70" y="112.95" width="2.1" height="2.1" fill="#f01616"/>
<rect x="207.05" y="113.70" width="2.1" height="2.1" fill="#f01616"/>
<rect x="200.20" y="114.95" width="2.1" height="2.1" fill="#f01616"/>
<rect x="202.05" y="115.20" width="2.1" height="2.1" fill="#f01616"/>
<rect x="173.70" y="115.20" width="2.1" height="2.1" fill="#f01616"/>
<rect x="181.20" y="115.85" width="2.1" height="2.1" fill="#f01616"/>
<rect x="175.85" y="117.70" width="2.1" height="2.1" fill="#f01616"/>
<rect x="175.85" y="119.20" width="2.1" height="2.1" fill="#f01616"/>
<rect x="190.85" y="117.95" width="2.1" height="2.1" fill="#f01616"/>
<rect x="198.95" y="118.35" width="2.1" height="2.1" fill="#f01616"/>
<rect x="168.35" y="119.20" width="2.1" height="2.1" fill="#f01616"/>
<rect x="187.05" y="120.45" width="2.1" height="2.1" fill="#f01616"/>
<rect x="197.95" y="122.05" width="2.1" height="2.1" fill="#f01616"/>
<rect x="198.70" y="123.95" width="2.1" height="2.1" fill="#f01616"/>
<rect x="191.70" y="123.70" width="2.1" height="2.1" fill="#f01616"/>
<rect x="193.35" y="123.95" width="2.1" height="2.1" fill="#f01616"/>
<rect x="204.55" y="122.95" width="2.1" height="2.1" fill="#f01616"/>
<rect x="206.20" y="123.35" width="2.1" height="2.1" fill="#f01616"/>
<rect x="164.55" y="125.20" width="2.1" height="2.1" fill="#f01616"/>
<rect x="175.20" y="126.20" width="2.1" height="2.1" fill="#f01616"/>
<rect x="168.95" y="127.05" width="2.1" height="2.1" fill="#f01616"/>
<rect x="170.45" y="128.70" width="2.1" height="2.1" fill="#f01616"/>
<rect x="178.95" y="128.70" width="2.1" height="2.1" fill="#f01616"/>
<rect x="180.45" y="128.35" width="2.1" height="2.1" fill="#f01616"/>
<rect x="179.55" y="129.55" width="2.1" height="2.1" fill="#f01616"/>
<rect x="184.55" y="128.95" width="2.1" height="2.1" fill="#f01616"/>
<rect x="187.05" y="129.95" width="2.1" height="2.1" fill="#f01616"/>
<rect x="188.70" y="129.70" width="2.1" height="2.1" fill="#f01616"/>
<rect x="208.95" y="127.95" width="2.1" height="2.1" fill="#f01616"/>
<rect x="160.45" y="130.20" width="2.1" height="2.1" fill="#f01616"/>
<rect x="163.95" y="132.05" width="2.1" height="2.1" fill="#f01616"/>
<rect x="169.95" y="131.70" width="2.1" height="2.1" fill="#f01616"/>
<rect x="197.95" y="130.85" width="2.1" height="2.1" fill="#f01616"/>
<rect x="197.05" y="132.45" width="2.1" height="2.1" fill="#f01616"/>
<rect x="172.05" y="134.55" width="2.1" height="2.1" fill="#f01616"/>
<rect x="209.55" y="133.70" width="2.1" height="2.1" fill="#f01616"/>
<rect x="207.05" y="135.45" width="2.1" height="2.1" fill="#f01616"/>
<rect x="175.85" y="136.20" width="2.1" height="2.1" fill="#f01616"/>
<rect x="175.20" y="139.85" width="2.1" height="2.1" fill="#f01616"/>
<rect x="192.05" y="139.55" width="2.1" height="2.1" fill="#f01616"/>
<rect x="196.45" y="138.95" width="2.1" height="2.1" fill="#f01616"/>
<rect x="202.70" y="138.35" width="2.1" height="2.1" fill="#f01616"/>
<rect x="204.55" y="138.35" width="2.1" height="2.1" fill="#f01616"/>
<rect x="165.20" y="142.05" width="2.1" height="2.1" fill="#f01616"/>
<rect x="186.70" y="142.45" width="2.1" height="2.1" fill="#f01616"/>
<rect x="182.05" y="143.70" width="2.1" height="2.1" fill="#f01616"/>
<rect x="194.55" y="144.85" width="2.1" height="2.1" fill="#f01616"/>
<rect x="172.05" y="145.85" width="2.1" height="2.1" fill="#f01616"/>
<rect x="162.05" y="147.70" width="2.1" height="2.1" fill="#f01616"/>
<rect x="184.95" y="146.85" width="2.1" height="2.1" fill="#f01616"/>
<rect x="186.70" y="147.05" width="2.1" height="2.1" fill="#f01616"/>
<rect x="175.20" y="148.35" width="2.1" height="2.1" fill="#f01616"/>
<rect x="176.45" y="149.55" width="2.1" height="2.1" fill="#f01616"/>
<rect x="178.70" y="150.20" width="2.1" height="2.1" fill="#f01616"/>
<rect x="166.70" y="149.20" width="2.1" height="2.1" fill="#f01616"/>
<rect x="190.45" y="148.95" width="2.1" height="2.1" fill="#f01616"/>
<rect x="183.95" y="150.85" width="2.1" height="2.1" fill="#f01616"/>
<rect x="192.05" y="152.70" width="2.1" height="2.1" fill="#f01616"/>
<rect x="163.35" y="156.20" width="2.1" height="2.1" fill="#f01616"/>
<rect x="212.70" y="79.55" width="2.1" height="2.1" fill="#f01616"/>
<rect x="207.70" y="86.20" width="2.1" height="2.1" fill="#f01616"/>
<rect x="198.70" y="91.20" width="2.1" height="2.1" fill="#f01616"/>
<rect x="202.05" y="91.20" width="2.1" height="2.1" fill="#f01616"/>
<rect x="195.85" y="96.70" width="2.1" height="2.1" fill="#f01616"/>
<rect x="221.70" y="75.55" width="2.1" height="2.1" fill="#f01616"/>
<rect x="220.70" y="104.85" width="2.1" height="2.1" fill="#f01616"/>
<rect x="225.45" y="112.95" width="2.1" height="2.1" fill="#f01616"/>
<rect x="221.70" y="126.95" width="2.1" height="2.1" fill="#f01616"/>
<rect x="168.95" y="158.95" width="2.1" height="2.1" fill="#f01616"/>
<rect x="174.20" y="159.45" width="2.1" height="2.1" fill="#f01616"/>
<rect x="171.45" y="166.45" width="2.1" height="2.1" fill="#f01616"/>
<rect x="188.95" y="164.70" width="2.1" height="2.1" fill="#f01616"/>
<rect x="123.05" y="103.95" width="2.1" height="2.1" fill="#f01616"/>
<rect x="126.20" y="104.95" width="2.1" height="2.1" fill="#f01616"/>
<rect x="161.95" y="120.45" width="2.1" height="2.1" fill="#f01616"/>
<rect x="157.45" y="125.85" width="2.1" height="2.1" fill="#f01616"/>
<rect x="156.85" y="128.95" width="2.1" height="2.1" fill="#f01616"/>
<rect x="151.85" y="135.20" width="2.1" height="2.1" fill="#f01616"/>
<rect x="146.20" y="139.55" width="2.1" height="2.1" fill="#f01616"/>
<rect x="147.45" y="140.85" width="2.1" height="2.1" fill="#f01616"/>
<rect x="138.70" y="142.05" width="2.1" height="2.1" fill="#f01616"/>
<rect x="139.70" y="143.35" width="2.1" height="2.1" fill="#f01616"/>
<rect x="143.70" y="142.05" width="2.1" height="2.1" fill="#f01616"/>
<rect x="143.05" y="145.85" width="2.1" height="2.1" fill="#f01616"/>
<rect x="148.70" y="147.05" width="2.1" height="2.1" fill="#f01616"/>
<rect x="158.05" y="141.45" width="2.1" height="2.1" fill="#f01616"/>
<rect x="137.45" y="148.95" width="2.1" height="2.1" fill="#f01616"/>
<rect x="140.55" y="150.85" width="2.1" height="2.1" fill="#f01616"/>
<rect x="133.70" y="147.70" width="2.1" height="2.1" fill="#f01616"/>
<rect x="145.55" y="153.95" width="2.1" height="2.1" fill="#f01616"/>
<rect x="148.05" y="155.20" width="2.1" height="2.1" fill="#f01616"/>
<rect x="152.45" y="153.95" width="2.1" height="2.1" fill="#f01616"/>
<rect x="125.55" y="152.70" width="2.1" height="2.1" fill="#f01616"/>
<rect x="139.95" y="155.85" width="2.1" height="2.1" fill="#f01616"/>
<rect x="137.45" y="155.20" width="2.1" height="2.1" fill="#f01616"/>
<rect x="146.20" y="154.55" width="2.1" height="2.1" fill="#f01616"/>
<rect x="152.45" y="154.55" width="2.1" height="2.1" fill="#f01616"/>
<rect x="133.45" y="161.20" width="2.1" height="2.1" fill="#f01616"/>
<rect x="124.95" y="163.70" width="2.1" height="2.1" fill="#f01616"/>
<rect x="118.95" y="164.95" width="2.1" height="2.1" fill="#f01616"/>
<rect x="148.45" y="167.05" width="2.1" height="2.1" fill="#f01616"/>
<rect x="144.70" y="168.95" width="2.1" height="2.1" fill="#f01616"/>
<rect x="123.95" y="170.45" width="2.1" height="2.1" fill="#f01616"/>
<rect x="138.95" y="172.95" width="2.1" height="2.1" fill="#f01616"/>
<rect x="143.35" y="174.55" width="2.1" height="2.1" fill="#f01616"/>
<rect x="118.95" y="176.85" width="2.1" height="2.1" fill="#f01616"/>
<rect x="142.45" y="186.70" width="2.1" height="2.1" fill="#f01616"/>
<rect x="114.35" y="189.85" width="2.1" height="2.1" fill="#f01616"/>
<rect x="109.95" y="199.85" width="2.1" height="2.1" fill="#f01616"/>
<rect x="140.95" y="199.85" width="2.1" height="2.1" fill="#f01616"/>
<rect x="138.05" y="203.35" width="2.1" height="2.1" fill="#f01616"/>
<rect x="92.05" y="133.35" width="2.1" height="2.1" fill="#f01616"/>
<line x1="91.825" y1="164.55" x2="227.5" y2="39.00000000000002" stroke="#fff" stroke-width="1.05"/>
<path d="M33.3 3.2V218.8H268" stroke="#000" stroke-width="1.5" fill="none"/>
<line x1="31.299999999999997" y1="219.4" x2="33.3" y2="219.4" stroke="#000" stroke-width="1"/>
<text x="30.4" y="221.6" text-anchor="end" font-size="9.6">-1</text>
<line x1="31.299999999999997" y1="188.4" x2="33.3" y2="188.4" stroke="#000" stroke-width="1"/>
<text x="30.4" y="190.6" text-anchor="end" font-size="9.6">0</text>
<line x1="31.299999999999997" y1="157.4" x2="33.3" y2="157.4" stroke="#000" stroke-width="1"/>
<text x="30.4" y="159.6" text-anchor="end" font-size="9.6">1</text>
<line x1="31.299999999999997" y1="126.4" x2="33.3" y2="126.4" stroke="#000" stroke-width="1"/>
<text x="30.4" y="128.6" text-anchor="end" font-size="9.6">2</text>
<line x1="31.299999999999997" y1="95.4" x2="33.3" y2="95.4" stroke="#000" stroke-width="1"/>
<text x="30.4" y="97.6" text-anchor="end" font-size="9.6">3</text>
<line x1="31.299999999999997" y1="64.4" x2="33.3" y2="64.4" stroke="#000" stroke-width="1"/>
<text x="30.4" y="66.6" text-anchor="end" font-size="9.6">4</text>
<line x1="31.299999999999997" y1="33.400000000000006" x2="33.3" y2="33.400000000000006" stroke="#000" stroke-width="1"/>
<text x="30.4" y="35.6" text-anchor="end" font-size="9.6">5</text>
<line x1="33.2" y1="218.8" x2="33.2" y2="220.8" stroke="#000" stroke-width="1"/>
<text x="33.7" y="230.8" text-anchor="middle" font-size="9.6">-1</text>
<line x1="66.7" y1="218.8" x2="66.7" y2="220.8" stroke="#000" stroke-width="1"/>
<text x="67.5" y="230.8" text-anchor="middle" font-size="9.6">0</text>
<line x1="100.2" y1="218.8" x2="100.2" y2="220.8" stroke="#000" stroke-width="1"/>
<text x="101.0" y="230.8" text-anchor="middle" font-size="9.6">1</text>
<line x1="133.7" y1="218.8" x2="133.7" y2="220.8" stroke="#000" stroke-width="1"/>
<text x="134.5" y="230.8" text-anchor="middle" font-size="9.6">2</text>
<line x1="167.2" y1="218.8" x2="167.2" y2="220.8" stroke="#000" stroke-width="1"/>
<text x="168.0" y="230.8" text-anchor="middle" font-size="9.6">3</text>
<line x1="200.7" y1="218.8" x2="200.7" y2="220.8" stroke="#000" stroke-width="1"/>
<text x="201.5" y="230.8" text-anchor="middle" font-size="9.6">4</text>
<line x1="234.2" y1="218.8" x2="234.2" y2="220.8" stroke="#000" stroke-width="1"/>
<text x="235.0" y="230.8" text-anchor="middle" font-size="9.6">5</text>
<text x="-1" y="13.5" font-size="18">(A)</text>
<text x="65" y="32.7" font-size="10.4">7 <tspan font-style="italic">hrpG</tspan>-repressed</text>
<text x="184.1" y="189.5" font-size="10.35">134 <tspan font-style="italic">hrpG</tspan>-induced</text>
<text x="218.3" y="24.6" font-size="10.4" fill="#e8231e">5x</text>
<text x="245.6" y="46.2" font-size="10.4" fill="#e8231e">5x</text>
<rect x="237.2" y="88.9" width="1.8" height="1.8" fill="#55c31a"/>
<text x="242.9" y="92.8" font-size="10.4" fill="#55c31a" font-style="italic">hrpG</text>
<text x="152.1" y="246.6" font-size="13.15" text-anchor="middle">Normalized expression (Log<tspan font-size="10" dy="3.6">10</tspan><tspan dy="-3.6">; </tspan><tspan font-style="italic">hrpG</tspan><tspan font-size="10.5" dy="-1">*</tspan><tspan dy="1">)</tspan></text>
<text transform="translate(11.8 126.9) rotate(-90)" font-size="13" text-anchor="middle">Normalized expression (Log<tspan font-size="10" dy="3.6">10</tspan><tspan dy="-3.6">; EV)</tspan></text>
<line x1="51.9" y1="460" x2="263.1" y2="267.5" stroke="#000" stroke-width="1.3" stroke-dasharray="4.5 3.2"/>
<line x1="155.5" y1="267.5" x2="155.5" y2="463.6" stroke="#333" stroke-width="1.0"/>
<line x1="98.1" y1="292.6" x2="170" y2="292.6" stroke="#000" stroke-width="1.1"/>
<line x1="174.5" y1="329.6" x2="174.5" y2="463.6" stroke="#111" stroke-width="1.0"/>
<line x1="175.6" y1="304.4" x2="175.6" y2="321.5" stroke="#000" stroke-width="1.1"/>
<line x1="169.4" y1="341.25" x2="188.75" y2="341.25" stroke="#6a6a6a" stroke-width="1.9"/>
<line x1="181.25" y1="336.25" x2="181.25" y2="346.9" stroke="#000" stroke-width="1.1"/>
<line x1="192.6" y1="315.6" x2="192.6" y2="328" stroke="#000" stroke-width="1.1"/>
<line x1="159.4" y1="352.25" x2="159.4" y2="368.1" stroke="#000" stroke-width="1.1"/>
<line x1="155.25" y1="358.75" x2="163.1" y2="358.75" stroke="#000" stroke-width="1.1"/>
<line x1="166.9" y1="357.5" x2="180" y2="357.5" stroke="#000" stroke-width="1.1"/>
<line x1="63.1" y1="414.0" x2="102.5" y2="414.0" stroke="#6a6a6a" stroke-width="2.0"/>
<line x1="102.5" y1="406.9" x2="102.5" y2="425.6" stroke="#000" stroke-width="1.1"/>
<line x1="106.9" y1="414.4" x2="121.6" y2="414.4" stroke="#000" stroke-width="1.1"/>
<line x1="49.8" y1="456" x2="107.5" y2="456" stroke="#6a6a6a" stroke-width="2.0"/>
<line x1="217.5" y1="293.1" x2="217.5" y2="306.9" stroke="#000" stroke-width="1.1"/>
<circle cx="155.25" cy="292.75" r="2.55" fill="#000"/>
<circle cx="175.6" cy="311.5" r="2.55" fill="#000"/>
<circle cx="169.75" cy="328.75" r="2.55" fill="#000"/>
<circle cx="181.25" cy="341.25" r="2.55" fill="#000"/>
<circle cx="193.1" cy="320.6" r="2.55" fill="#000"/>
<circle cx="191" cy="324.4" r="2.55" fill="#000"/>
<circle cx="159.4" cy="358.5" r="2.55" fill="#000"/>
<circle cx="174.6" cy="357.4" r="2.55" fill="#000"/>
<circle cx="102.4" cy="414.7" r="2.55" fill="#000"/>
<circle cx="106.9" cy="414.4" r="2.55" fill="#000"/>
<circle cx="87.1" cy="456" r="2.55" fill="#000"/>
<circle cx="214.75" cy="284.4" r="2.55" fill="#000"/>
<circle cx="217.5" cy="299.6" r="2.55" fill="#000"/>
<path d="M46.6 266.5H49.2V463.6H263.1V466" stroke="#000" stroke-width="1.5" fill="none"/>
<line x1="46.8" y1="463.6" x2="49.2" y2="463.6" stroke="#000" stroke-width="1"/>
<text x="44.6" y="466.9" text-anchor="end" font-size="9.6">-1</text>
<line x1="46.8" y1="414.3" x2="49.2" y2="414.3" stroke="#000" stroke-width="1"/>
<text x="44.6" y="417.6" text-anchor="end" font-size="9.6">0</text>
<line x1="46.8" y1="365.0" x2="49.2" y2="365.0" stroke="#000" stroke-width="1"/>
<text x="44.6" y="368.3" text-anchor="end" font-size="9.6">1</text>
<line x1="46.8" y1="315.70000000000005" x2="49.2" y2="315.70000000000005" stroke="#000" stroke-width="1"/>
<text x="44.6" y="319.0" text-anchor="end" font-size="9.6">2</text>
<text x="44.6" y="269.7" text-anchor="end" font-size="9.6">3</text>
<line x1="49.2" y1="463.6" x2="49.2" y2="466" stroke="#000" stroke-width="1"/>
<text x="46.7" y="476.2" text-anchor="middle" font-size="9.6">-1</text>
<line x1="100.8" y1="463.6" x2="100.8" y2="466" stroke="#000" stroke-width="1"/>
<text x="100.8" y="476.2" text-anchor="middle" font-size="9.6">0</text>
<line x1="154.3" y1="463.6" x2="154.3" y2="466" stroke="#000" stroke-width="1"/>
<text x="154.3" y="476.2" text-anchor="middle" font-size="9.6">1</text>
<line x1="208.5" y1="463.6" x2="208.5" y2="466" stroke="#000" stroke-width="1"/>
<text x="208.5" y="476.2" text-anchor="middle" font-size="9.6">2</text>
<text x="263.1" y="476.2" text-anchor="middle" font-size="9.6">3</text>
<text x="-1" y="272.6" font-size="18">(B)</text>
<text x="156" y="489.1" font-size="13" text-anchor="middle">RT-qPCR normalized expression ratio</text>
<text x="156.4" y="504" font-size="13" text-anchor="middle">(Log<tspan font-size="10" dy="3.6">10</tspan><tspan dy="-3.6">; </tspan><tspan font-style="italic">hrpG</tspan><tspan font-size="10.5" dy="-1">*</tspan><tspan dy="1">/EV)</tspan></text>
<text transform="translate(14.2 385.5) rotate(-90)" font-size="13" text-anchor="middle">RNAseq normalized expression</text>
<text transform="translate(30.1 386) rotate(-90)" font-size="13" text-anchor="middle">ratio (Log<tspan font-size="10" dy="3.6">10</tspan><tspan dy="-3.6">; </tspan><tspan font-style="italic">hrpG</tspan><tspan font-size="10.5" dy="-1">*</tspan><tspan dy="1">/EV)</tspan></text>
<line x1="405.9" y1="20.6" x2="405.9" y2="217" stroke="#707070" stroke-width="1.2" stroke-dasharray="2.6 2.4"/>
<rect x="344.95" y="64.75" width="17.30000000000001" height="52.599999999999994" fill="#c9cbcb" stroke="#000" stroke-width="1.5"/>
<line x1="353.6" y1="42.6" x2="353.6" y2="64" stroke="#000" stroke-width="1.4"/>
<line x1="353.6" y1="118.1" x2="353.6" y2="166.9" stroke="#000" stroke-width="1.4"/>
<line x1="348.5" y1="42.6" x2="358.70000000000005" y2="42.6" stroke="#000" stroke-width="1.5"/>
<line x1="348.5" y1="166.9" x2="358.70000000000005" y2="166.9" stroke="#000" stroke-width="1.5"/>
<line x1="344.7" y1="83.5" x2="362.5" y2="83.5" stroke="#000" stroke-width="2.8"/>
<ellipse cx="353.6" cy="25" rx="1.45" ry="1.65" fill="#000"/>
<ellipse cx="353.6" cy="40.3" rx="1.45" ry="1.65" fill="#000"/>
<circle cx="353.6" cy="75.89999999999999" r="2.85" fill="#e8260f"/>
<rect x="379.05" y="117.75" width="17.69999999999999" height="40.69999999999999" fill="#c9cbcb" stroke="#000" stroke-width="1.5"/>
<line x1="388.0" y1="101.9" x2="388.0" y2="117.0" stroke="#000" stroke-width="1.4"/>
<line x1="388.0" y1="159.2" x2="388.0" y2="167.1" stroke="#000" stroke-width="1.4"/>
<line x1="382.9" y1="101.9" x2="393.1" y2="101.9" stroke="#000" stroke-width="1.5"/>
<line x1="382.9" y1="167.1" x2="393.1" y2="167.1" stroke="#000" stroke-width="1.5"/>
<line x1="378.8" y1="138.9" x2="397.0" y2="138.9" stroke="#000" stroke-width="2.8"/>
<ellipse cx="388.0" cy="43.6" rx="1.45" ry="1.65" fill="#000"/>
<ellipse cx="388.0" cy="45.9" rx="1.45" ry="1.65" fill="#000"/>
<ellipse cx="388.0" cy="69" rx="1.45" ry="1.65" fill="#000"/>
<ellipse cx="388.0" cy="82.1" rx="1.45" ry="1.65" fill="#000"/>
<ellipse cx="388.0" cy="87.4" rx="1.45" ry="1.65" fill="#000"/>
<ellipse cx="388.0" cy="89.6" rx="1.45" ry="1.65" fill="#000"/>
<circle cx="388.0" cy="113.6" r="2.85" fill="#e8260f"/>
<rect x="414.15" y="64.75" width="16.30000000000001" height="52.7" fill="#c9cbcb" stroke="#000" stroke-width="1.5"/>
<line x1="422.2" y1="42.4" x2="422.2" y2="64" stroke="#000" stroke-width="1.4"/>
<line x1="422.2" y1="118.2" x2="422.2" y2="155.6" stroke="#000" stroke-width="1.4"/>
<line x1="417.09999999999997" y1="42.4" x2="427.3" y2="42.4" stroke="#000" stroke-width="1.5"/>
<line x1="417.09999999999997" y1="155.6" x2="427.3" y2="155.6" stroke="#000" stroke-width="1.5"/>
<line x1="413.9" y1="82.75" x2="430.7" y2="82.75" stroke="#000" stroke-width="2.8"/>
<ellipse cx="422.2" cy="25" rx="1.45" ry="1.65" fill="#000"/>
<ellipse cx="422.2" cy="40.6" rx="1.45" ry="1.65" fill="#000"/>
<circle cx="422.2" cy="73.2" r="2.85" fill="#e8260f"/>
<rect x="448.05" y="111.15" width="17.19999999999999" height="47.29999999999998" fill="#c9cbcb" stroke="#000" stroke-width="1.5"/>
<line x1="456.2" y1="93.1" x2="456.2" y2="110.4" stroke="#000" stroke-width="1.4"/>
<line x1="456.2" y1="159.2" x2="456.2" y2="166.9" stroke="#000" stroke-width="1.4"/>
<line x1="451.09999999999997" y1="93.1" x2="461.3" y2="93.1" stroke="#000" stroke-width="1.5"/>
<line x1="451.09999999999997" y1="166.9" x2="461.3" y2="166.9" stroke="#000" stroke-width="1.5"/>
<line x1="447.8" y1="137.3" x2="465.5" y2="137.3" stroke="#000" stroke-width="2.8"/>
<ellipse cx="456.2" cy="44" rx="1.45" ry="1.65" fill="#000"/>
<ellipse cx="456.2" cy="46" rx="1.45" ry="1.65" fill="#000"/>
<ellipse cx="456.2" cy="64" rx="1.45" ry="1.65" fill="#000"/>
<ellipse cx="456.2" cy="68.5" rx="1.45" ry="1.65" fill="#000"/>
<ellipse cx="456.2" cy="79.6" rx="1.45" ry="1.65" fill="#000"/>
<ellipse cx="456.2" cy="82" rx="1.45" ry="1.65" fill="#000"/>
<ellipse cx="456.2" cy="85" rx="1.45" ry="1.65" fill="#000"/>
<ellipse cx="456.2" cy="87.5" rx="1.45" ry="1.65" fill="#000"/>
<circle cx="456.2" cy="109.7" r="2.85" fill="#e8260f"/>
<text x="389.4" y="32.6" font-size="10.4" text-anchor="middle">***</text>
<text x="456.1" y="34.2" font-size="10.4" text-anchor="middle">***</text>
<path d="M334.4 20.6H337.6V217.1H472" stroke="#000" stroke-width="1.5" fill="none"/>
<line x1="334.8" y1="217.1" x2="337.6" y2="217.1" stroke="#000" stroke-width="1"/>
<line x1="334.8" y1="151.6" x2="337.6" y2="151.6" stroke="#000" stroke-width="1"/>
<line x1="334.8" y1="86.1" x2="337.6" y2="86.1" stroke="#000" stroke-width="1"/>
<text x="332.1" y="222.4" text-anchor="end" font-size="10">0</text>
<text x="332.1" y="155.0" text-anchor="end" font-size="10">1</text>
<text x="332.1" y="89.4" text-anchor="end" font-size="10">2</text>
<text x="332.1" y="23.6" text-anchor="end" font-size="10">3</text>
<line x1="371.9" y1="217.1" x2="371.9" y2="219.6" stroke="#000" stroke-width="1"/>
<line x1="405.9" y1="217.1" x2="405.9" y2="219.6" stroke="#000" stroke-width="1"/>
<line x1="438.6" y1="217.1" x2="438.6" y2="219.6" stroke="#000" stroke-width="1"/>
<line x1="471.5" y1="217.1" x2="471.5" y2="219.6" stroke="#000" stroke-width="1"/>
<path d="M350.90 225.40H358.60M355.90 221.50L353.60 228.90" stroke="#000" stroke-width="1.15" fill="none"/>
<path d="M417.75 225.50H425.45M422.75 221.60L420.45 229.00" stroke="#000" stroke-width="1.15" fill="none"/>
<rect x="388.4" y="224.20" width="3.50" height="1.6" fill="#000"/>
<rect x="455.4" y="224.20" width="3.30" height="1.6" fill="#000"/>
<path d="M339.8 227.8V232.1H402.2V227.8" stroke="#000" stroke-width="1.4" fill="none"/>
<path d="M407.6 227.8V232.1H467.9V227.8" stroke="#000" stroke-width="1.4" fill="none"/>
<text x="370.6" y="245.6" font-size="12.5" text-anchor="middle">T3SS/T3SP</text>
<text x="439.4" y="245.6" font-size="12.5" text-anchor="middle">PIP box</text>
<text x="288.4" y="14.2" font-size="18">(C)</text>
<text transform="translate(303 115) rotate(-90)" font-size="13" text-anchor="middle">Normalized expression ratio</text>
<text transform="translate(318.9 113.9) rotate(-90)" font-size="13" text-anchor="middle">(Log<tspan font-size="10" dy="3.6">10</tspan><tspan dy="-3.6">; </tspan><tspan font-style="italic">hrpG</tspan><tspan font-size="10.5" dy="-1">*</tspan><tspan dy="1">/EV)</tspan></text></svg>
</body></html>
